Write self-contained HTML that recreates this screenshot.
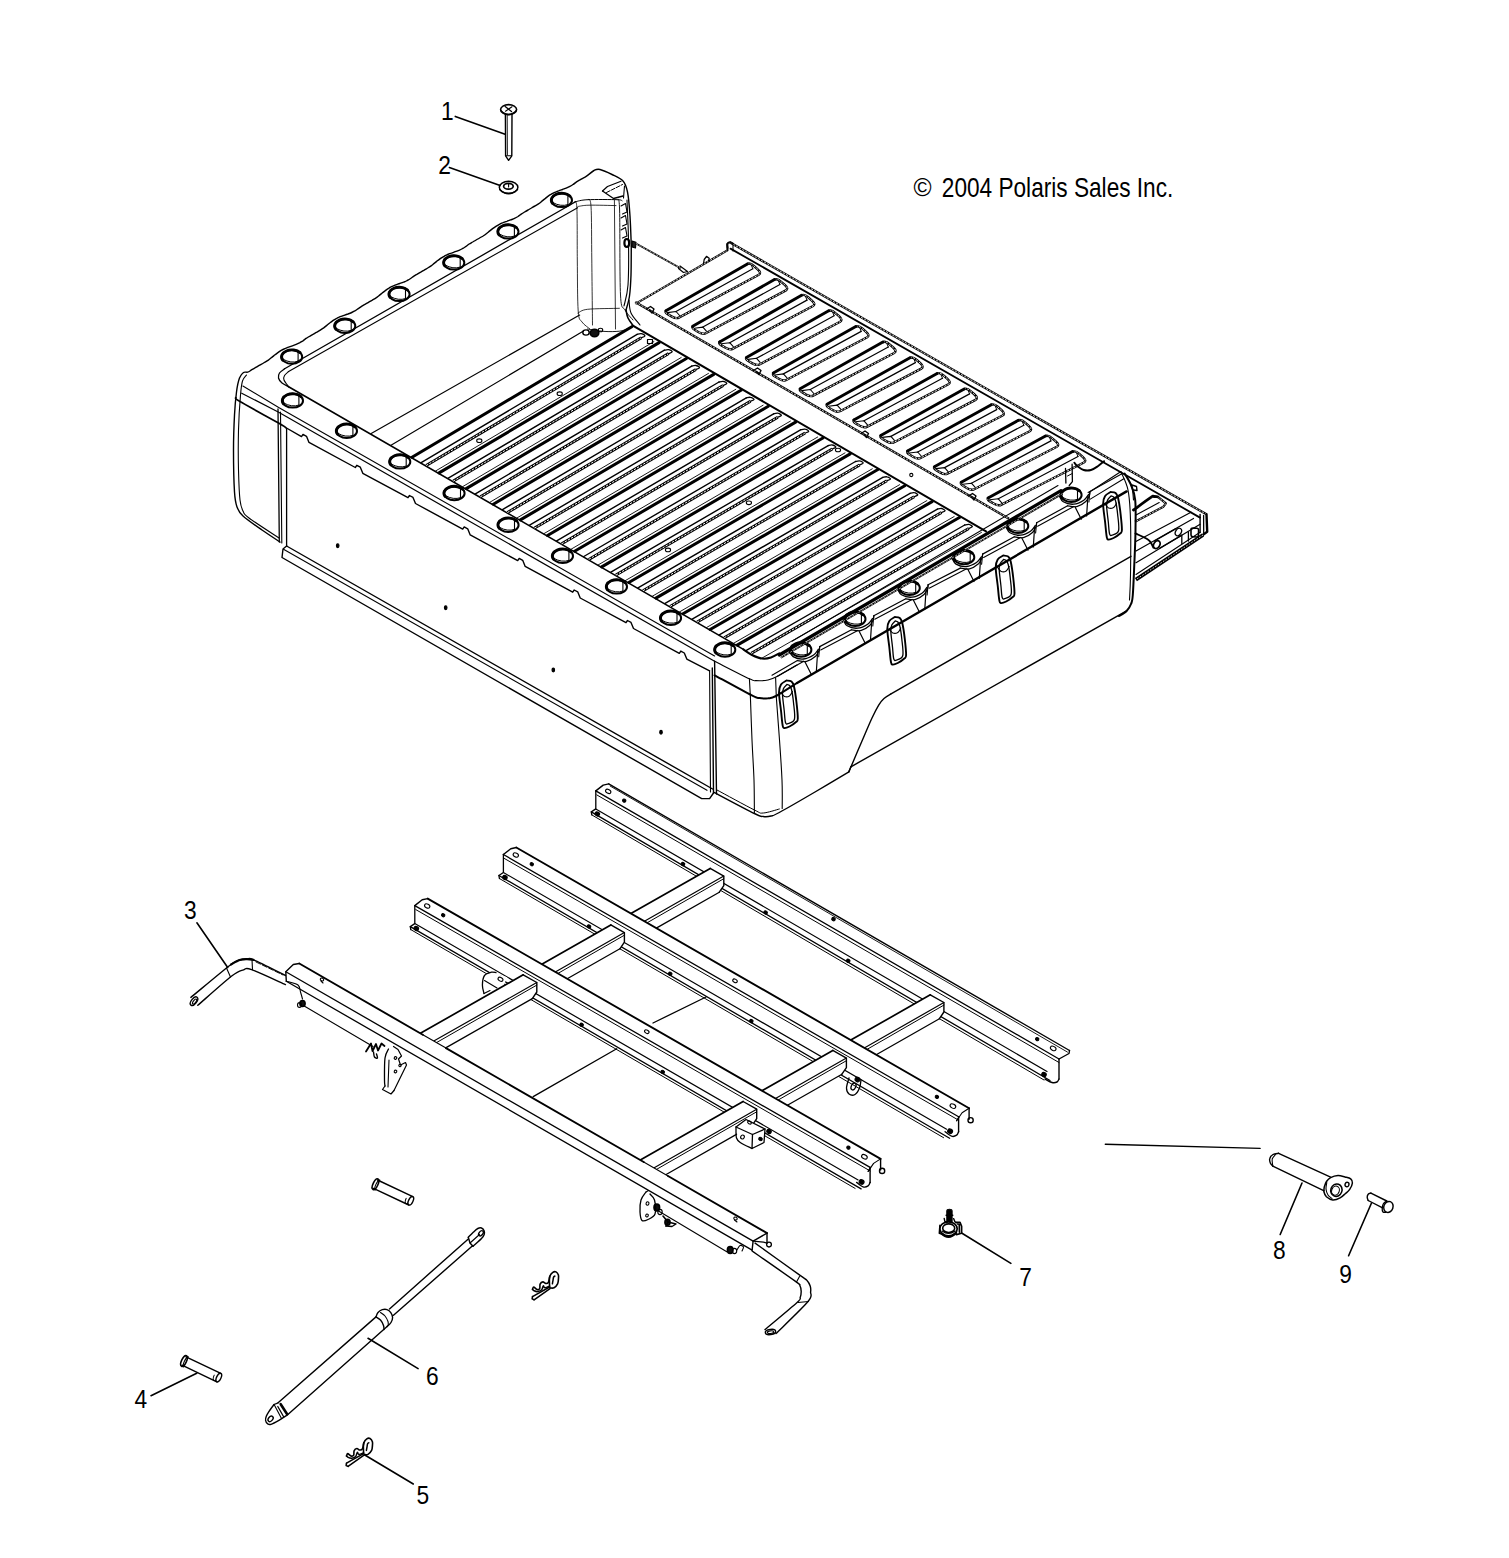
<!DOCTYPE html>
<html><head><meta charset="utf-8"><title>Cargo Box</title>
<style>
html,body{margin:0;padding:0;background:#fff;}
body{width:1509px;height:1558px;overflow:hidden;font-family:"Liberation Sans",sans-serif;}
svg{display:block;}
svg path,svg ellipse,svg line,svg circle,svg rect{stroke:#000;stroke-linecap:round;stroke-linejoin:round;}
svg text{font-family:"Liberation Sans",sans-serif;fill:#000;stroke:none;}
</style></head><body>
<svg width="1509" height="1558" viewBox="0 0 1509 1558">
<rect x="0" y="0" width="1509" height="1558" fill="#fff" style="stroke:none"/>
<g id="box">
<path d="M631.3 246 C631.1 241 630.6 225 630 216 C629.4 207 628.7 197.8 627.5 192 C626.3 186.2 625.6 183.9 623 181 C620.4 178.1 615.8 176.4 612 174.5 C608.2 172.6 603 170.2 600 169.5 C597 168.8 596.2 169.4 594 170.5 C591.8 171.6 588.7 174.7 586.9 175.9 C585.2 177.1 584.6 177.2 583.5 177.9 C582.3 178.6 581.2 179.2 580 179.9 C578.8 180.6 577.6 181.2 576.5 181.9 C575.4 182.7 574.4 183.6 573.3 184.3 C572.2 185.1 571.1 185.8 569.9 186.4 C568.7 187 567.5 187.6 566.2 188.1 C565 188.6 563.7 189 562.4 189.5 C561.2 189.9 559.8 190.3 558.6 190.8 C557.3 191.3 556.1 191.8 554.8 192.3 C553.6 192.9 552.4 193.5 551.3 194.2 C550.1 194.9 549 195.6 547.9 196.4 C546.9 197.2 545.8 198 544.8 198.9 C543.7 199.7 542.7 200.6 541.6 201.4 C540.6 202.3 539.6 203.2 538.5 203.9 C537.3 204.7 536.1 205.3 535 206 C533.8 206.6 532.7 207.3 531.5 208 C530.4 208.6 529.2 209.3 528.1 210 C526.9 210.6 525.7 211.3 524.6 212 C523.5 212.7 522.4 213.4 521.2 214.1 C520.1 214.9 519.1 215.8 518 216.5 C516.8 217.2 515.7 217.8 514.5 218.4 C513.3 219 512 219.4 510.7 219.9 C509.5 220.4 508.2 220.8 506.9 221.3 C505.6 221.7 504.3 222.2 503.1 222.7 C501.8 223.2 500.6 223.7 499.4 224.3 C498.2 224.9 497 225.6 495.9 226.3 C494.8 227 493.7 227.8 492.6 228.6 C491.6 229.4 490.5 230.3 489.5 231.1 C488.4 232 487.4 232.9 486.3 233.7 C485.3 234.5 484.2 235.3 483.1 236 C481.9 236.7 480.8 237.3 479.6 238 C478.4 238.7 477.3 239.3 476.1 240 C475 240.7 473.8 241.3 472.7 242 C471.5 242.7 470.3 243.3 469.2 244 C468.1 244.7 467.1 245.6 466 246.4 C464.9 247.1 463.8 247.9 462.6 248.5 C461.4 249.2 460.2 249.8 459 250.3 C457.8 250.8 456.5 251.3 455.2 251.7 C453.9 252.2 452.6 252.6 451.4 253.1 C450.1 253.5 448.8 254 447.6 254.5 C446.3 255.1 445.1 255.6 444 256.3 C442.8 256.9 441.7 257.6 440.6 258.4 C439.5 259.2 438.4 260 437.4 260.8 C436.3 261.7 435.3 262.6 434.2 263.4 C433.2 264.2 432.2 265.1 431.1 265.9 C430 266.7 428.8 267.4 427.7 268 C426.5 268.7 425.4 269.4 424.2 270.1 C423.1 270.7 421.9 271.4 420.7 272.1 C419.6 272.7 418.4 273.4 417.3 274.1 C416.1 274.7 415 275.4 413.9 276.1 C412.7 276.9 411.7 277.8 410.6 278.5 C409.5 279.3 408.4 279.9 407.2 280.5 C406 281.2 404.7 281.7 403.5 282.2 C402.2 282.7 400.9 283.1 399.7 283.5 C398.4 284 397.1 284.4 395.8 284.9 C394.6 285.4 393.3 285.9 392.1 286.4 C390.9 287 389.7 287.6 388.6 288.3 C387.4 289 386.3 289.8 385.3 290.6 C384.2 291.4 383.1 292.2 382.1 293.1 C381 293.9 380 294.8 378.9 295.7 C377.9 296.5 376.9 297.4 375.7 298.1 C374.6 298.8 373.4 299.4 372.3 300.1 C371.1 300.8 370 301.4 368.8 302.1 C367.7 302.8 366.5 303.4 365.4 304.1 C364.2 304.8 363 305.4 361.9 306.1 C360.8 306.8 359.7 307.6 358.6 308.4 C357.5 309.1 356.4 309.9 355.3 310.6 C354.1 311.3 352.9 311.9 351.7 312.5 C350.5 313.1 349.2 313.5 348 314 C346.7 314.5 345.4 314.9 344.1 315.3 C342.9 315.8 341.6 316.2 340.3 316.7 C339.1 317.3 337.8 317.8 336.7 318.4 C335.5 319 334.3 319.7 333.2 320.4 C332.1 321.2 331 322 330 322.8 C328.9 323.6 327.9 324.5 326.8 325.4 C325.8 326.2 324.7 327.1 323.7 327.9 C322.6 328.7 321.5 329.4 320.3 330.1 C319.2 330.9 318 331.5 316.9 332.2 C315.7 332.8 314.6 333.5 313.4 334.2 C312.3 334.8 311.1 335.5 310 336.2 C308.8 336.8 307.6 337.4 306.5 338.2 C305.4 338.9 304.4 339.8 303.3 340.6 C302.2 341.3 301 342 299.9 342.7 C298.7 343.3 297.5 343.9 296.2 344.4 C295 344.9 293.7 345.4 292.4 345.8 C291.2 346.3 289.9 346.7 288.6 347.1 C287.3 347.6 286.1 348.1 284.8 348.6 C283.6 349.2 282.4 349.8 281.2 350.4 C280.1 351.1 279 351.8 277.9 352.6 C276.8 353.4 275.7 354.2 274.7 355 C273.6 355.9 272.6 356.8 271.5 357.6 C270.5 358.5 269.5 359.4 268.4 360.1 C267.3 360.9 266.1 361.5 265 362.2 C263.8 362.9 262.6 363.5 261.5 364.2 C260.3 364.9 259.2 365.5 258 366.2 C256.9 366.9 255.7 367.5 254.6 368.2 C253.4 368.9 252.3 369.5 251.1 370.2 C250 370.9 248.9 371.8 247.6 372.2 C246.4 372.6 244.9 371.5 243.5 372.5 C242.1 373.5 240.7 374.8 239.5 378 C238.3 381.2 237.3 385.8 236.5 392 C235.7 398.2 235 405.3 234.5 415 C234 424.7 233.5 437.2 233.5 450 C233.5 462.8 233.9 482.5 234.5 492 C235.1 501.5 235.6 503 237 507 C238.4 511 238.8 512.2 243 516 C247.2 519.8 255.8 525.7 262 530 C268.2 534.3 277 540 280 542" stroke-width="1.4" fill="none"/>
<path d="M631.3 246 C631.2 250.8 631.3 266.7 631 275 C630.7 283.3 630.3 290.2 629.5 296 C628.7 301.8 626.6 307.7 626 310" stroke-width="1.4" fill="none"/>
<path d="M627 200 C627.2 206.7 628.3 225.8 628.5 240 C628.7 254.2 628.8 274 628 285 C627.2 296 624.7 302.5 624 306" stroke-width="1.1" fill="none"/>
<path d="M575.6 201.7 L284.6 368.8" stroke-width="1.3" fill="none"/>
<path d="M577.6 207.7 L288.6 371.5" stroke-width="1.1" fill="none"/>
<path d="M284.6 368.8 C283.8 369.5 280.5 371.5 279.5 373 C278.5 374.5 278.1 376.3 278.5 378 C278.9 379.7 280.3 381.6 282 383 C283.7 384.4 287.5 386.1 288.6 386.7" stroke-width="1.3" fill="none"/>
<path d="M288.6 371.5 C287.9 372.2 285.3 374.1 284.5 375.5 C283.7 376.9 283.3 378.1 284 380 C284.7 381.9 287.8 385.6 288.6 386.7" stroke-width="1.1" fill="none"/>
<path d="M246.5 375 C245.8 376 243.5 377.7 242.5 381 C241.5 384.3 241.2 386.8 240.5 395 C239.8 403.2 238.8 417.5 238.5 430 C238.2 442.5 238.2 458.3 238.5 470 C238.8 481.7 239.2 493.2 240 500 C240.8 506.8 241.5 508 243 511 C244.5 514 243 513.5 249 518 C255 522.5 274 534.7 279 538" stroke-width="1.1" fill="none"/>
<path d="M235.8 397.6 C236.5 398.3 233 397.5 240 401.6 C247 405.8 270.1 418.2 277.7 422.5 C285.3 426.8 284.3 426.7 285.6 427.5" stroke-width="1.7" fill="none"/>
<path d="M278 409 L279.3 542" stroke-width="1.3" fill="none"/>
<path d="M280.5 412 L281.8 543" stroke-width="1.1" fill="none"/>
<path d="M286.6 428.5 L286.6 546" stroke-width="1.3" fill="none"/>
<path d="M288.6 386.7 L743.4 649.4" stroke-width="1.6" fill="none"/>
<path d="M242.9 386 L278.7 407.5 L714.6 656" stroke-width="1.1" fill="none"/>
<path d="M241.7 393.2 L278.7 412.3 L714.6 661.3" stroke-width="1.2" fill="none"/>
<path d="M285.6 427.5 L301.5 436.6 L303 434.4 L306.5 436.3 L309 442.4 L355.3 467.5 L356.8 465.3 L360.3 467.2 L362.8 473.3 L408 497.7 L409.5 495.5 L413 497.4 L415.5 503.5 L462.7 529.1 L464.2 526.9 L467.7 528.8 L470.2 534.9 L517.7 560.6 L519.2 558.4 L522.7 560.3 L525.2 566.4 L572.7 592.2 L574.2 590 L577.7 591.8 L580.2 598 L626 622.7 L627.5 620.5 L631 622.4 L633.5 628.5 L679.3 653.3 L680.8 651.1 L684.3 653 L686.8 659.1 L709.6 670.8" stroke-width="1.4" fill="none"/>
<ellipse cx="561.7" cy="200.2" rx="10.3" ry="6.9" stroke-width="2" fill="none"/>
<path d="M552.5 203.3 A10.3 6.9 0 0 1 569.9 196" stroke-width="2.9" fill="none"/>
<path d="M567.9 195.6 L567.9 204.6" stroke-width="1.1" fill="none"/>
<path d="M553.2 202.7 Q560.7 207 567.9 204.6" stroke-width="1" fill="none"/>
<ellipse cx="508.2" cy="231.7" rx="10.3" ry="6.9" stroke-width="2" fill="none"/>
<path d="M499 234.8 A10.3 6.9 0 0 1 516.4 227.5" stroke-width="2.9" fill="none"/>
<path d="M514.4 227.1 L514.4 236.1" stroke-width="1.1" fill="none"/>
<path d="M499.7 234.2 Q507.2 238.5 514.4 236.1" stroke-width="1" fill="none"/>
<ellipse cx="454" cy="262.7" rx="10.3" ry="6.9" stroke-width="2" fill="none"/>
<path d="M444.8 265.8 A10.3 6.9 0 0 1 462.2 258.5" stroke-width="2.9" fill="none"/>
<path d="M460.2 258.1 L460.2 267.1" stroke-width="1.1" fill="none"/>
<path d="M445.5 265.2 Q453 269.5 460.2 267.1" stroke-width="1" fill="none"/>
<ellipse cx="399.3" cy="294.2" rx="10.3" ry="6.9" stroke-width="2" fill="none"/>
<path d="M390.1 297.3 A10.3 6.9 0 0 1 407.5 290" stroke-width="2.9" fill="none"/>
<path d="M405.5 289.6 L405.5 298.6" stroke-width="1.1" fill="none"/>
<path d="M390.8 296.7 Q398.3 301 405.5 298.6" stroke-width="1" fill="none"/>
<ellipse cx="345" cy="326" rx="10.3" ry="6.9" stroke-width="2" fill="none"/>
<path d="M335.8 329.1 A10.3 6.9 0 0 1 353.2 321.8" stroke-width="2.9" fill="none"/>
<path d="M351.2 321.4 L351.2 330.4" stroke-width="1.1" fill="none"/>
<path d="M336.5 328.5 Q344 332.8 351.2 330.4" stroke-width="1" fill="none"/>
<ellipse cx="291.9" cy="356.9" rx="10.3" ry="6.9" stroke-width="2" fill="none"/>
<path d="M282.7 360 A10.3 6.9 0 0 1 300.1 352.7" stroke-width="2.9" fill="none"/>
<path d="M298.1 352.3 L298.1 361.3" stroke-width="1.1" fill="none"/>
<path d="M283.4 359.4 Q290.9 363.7 298.1 361.3" stroke-width="1" fill="none"/>
<ellipse cx="292.7" cy="400.7" rx="10.3" ry="6.9" stroke-width="2" fill="none"/>
<path d="M283.5 403.8 A10.3 6.9 0 0 1 300.9 396.5" stroke-width="2.9" fill="none"/>
<path d="M298.9 396.1 L298.9 405.1" stroke-width="1.1" fill="none"/>
<path d="M284.2 403.2 Q291.7 407.5 298.9 405.1" stroke-width="1" fill="none"/>
<ellipse cx="346.7" cy="431" rx="10.3" ry="6.9" stroke-width="2" fill="none"/>
<path d="M337.5 434.1 A10.3 6.9 0 0 1 354.9 426.8" stroke-width="2.9" fill="none"/>
<path d="M352.9 426.4 L352.9 435.4" stroke-width="1.1" fill="none"/>
<path d="M338.2 433.5 Q345.7 437.8 352.9 435.4" stroke-width="1" fill="none"/>
<ellipse cx="400" cy="461.7" rx="10.3" ry="6.9" stroke-width="2" fill="none"/>
<path d="M390.8 464.8 A10.3 6.9 0 0 1 408.2 457.5" stroke-width="2.9" fill="none"/>
<path d="M406.2 457.1 L406.2 466.1" stroke-width="1.1" fill="none"/>
<path d="M391.5 464.2 Q399 468.5 406.2 466.1" stroke-width="1" fill="none"/>
<ellipse cx="454.3" cy="493.3" rx="10.3" ry="6.9" stroke-width="2" fill="none"/>
<path d="M445.1 496.4 A10.3 6.9 0 0 1 462.5 489.1" stroke-width="2.9" fill="none"/>
<path d="M460.5 488.7 L460.5 497.7" stroke-width="1.1" fill="none"/>
<path d="M445.8 495.8 Q453.3 500.1 460.5 497.7" stroke-width="1" fill="none"/>
<ellipse cx="508.3" cy="525" rx="10.3" ry="6.9" stroke-width="2" fill="none"/>
<path d="M499.1 528.1 A10.3 6.9 0 0 1 516.5 520.8" stroke-width="2.9" fill="none"/>
<path d="M514.5 520.4 L514.5 529.4" stroke-width="1.1" fill="none"/>
<path d="M499.8 527.5 Q507.3 531.8 514.5 529.4" stroke-width="1" fill="none"/>
<ellipse cx="562.7" cy="556" rx="10.3" ry="6.9" stroke-width="2" fill="none"/>
<path d="M553.5 559.1 A10.3 6.9 0 0 1 570.9 551.8" stroke-width="2.9" fill="none"/>
<path d="M568.9 551.4 L568.9 560.4" stroke-width="1.1" fill="none"/>
<path d="M554.2 558.5 Q561.7 562.8 568.9 560.4" stroke-width="1" fill="none"/>
<ellipse cx="616.7" cy="586.7" rx="10.3" ry="6.9" stroke-width="2" fill="none"/>
<path d="M607.5 589.8 A10.3 6.9 0 0 1 624.9 582.5" stroke-width="2.9" fill="none"/>
<path d="M622.9 582.1 L622.9 591.1" stroke-width="1.1" fill="none"/>
<path d="M608.2 589.2 Q615.7 593.5 622.9 591.1" stroke-width="1" fill="none"/>
<ellipse cx="670.8" cy="618" rx="10.3" ry="6.9" stroke-width="2" fill="none"/>
<path d="M661.6 621.1 A10.3 6.9 0 0 1 679 613.8" stroke-width="2.9" fill="none"/>
<path d="M677 613.4 L677 622.4" stroke-width="1.1" fill="none"/>
<path d="M662.3 620.5 Q669.8 624.8 677 622.4" stroke-width="1" fill="none"/>
<ellipse cx="725" cy="649.8" rx="10.3" ry="6.9" stroke-width="2" fill="none"/>
<path d="M715.8 652.9 A10.3 6.9 0 0 1 733.2 645.6" stroke-width="2.9" fill="none"/>
<path d="M731.2 645.2 L731.2 654.2" stroke-width="1.1" fill="none"/>
<path d="M716.5 652.3 Q724 656.6 731.2 654.2" stroke-width="1" fill="none"/>
<ellipse cx="801.1" cy="649.8" rx="10.3" ry="6.9" stroke-width="2" fill="none"/>
<path d="M791.9 652.9 A10.3 6.9 0 0 1 809.3 645.6" stroke-width="2.9" fill="none"/>
<path d="M807.3 645.2 L807.3 654.2" stroke-width="1.1" fill="none"/>
<path d="M792.6 652.3 Q800.1 656.6 807.3 654.2" stroke-width="1" fill="none"/>
<ellipse cx="855.2" cy="619" rx="10.3" ry="6.9" stroke-width="2" fill="none"/>
<path d="M846 622.1 A10.3 6.9 0 0 1 863.4 614.8" stroke-width="2.9" fill="none"/>
<path d="M861.4 614.4 L861.4 623.4" stroke-width="1.1" fill="none"/>
<path d="M846.7 621.5 Q854.2 625.8 861.4 623.4" stroke-width="1" fill="none"/>
<ellipse cx="909.5" cy="588" rx="10.3" ry="6.9" stroke-width="2" fill="none"/>
<path d="M900.3 591.1 A10.3 6.9 0 0 1 917.7 583.8" stroke-width="2.9" fill="none"/>
<path d="M915.7 583.4 L915.7 592.4" stroke-width="1.1" fill="none"/>
<path d="M901 590.5 Q908.5 594.8 915.7 592.4" stroke-width="1" fill="none"/>
<ellipse cx="964" cy="557.3" rx="10.3" ry="6.9" stroke-width="2" fill="none"/>
<path d="M954.8 560.4 A10.3 6.9 0 0 1 972.2 553.1" stroke-width="2.9" fill="none"/>
<path d="M970.2 552.7 L970.2 561.7" stroke-width="1.1" fill="none"/>
<path d="M955.5 559.8 Q963 564.1 970.2 561.7" stroke-width="1" fill="none"/>
<ellipse cx="1018" cy="526" rx="10.3" ry="6.9" stroke-width="2" fill="none"/>
<path d="M1008.8 529.1 A10.3 6.9 0 0 1 1026.2 521.8" stroke-width="2.9" fill="none"/>
<path d="M1024.2 521.4 L1024.2 530.4" stroke-width="1.1" fill="none"/>
<path d="M1009.5 528.5 Q1017 532.8 1024.2 530.4" stroke-width="1" fill="none"/>
<ellipse cx="1071.3" cy="495" rx="10.3" ry="6.9" stroke-width="2" fill="none"/>
<path d="M1062.1 498.1 A10.3 6.9 0 0 1 1079.5 490.8" stroke-width="2.9" fill="none"/>
<path d="M1077.5 490.4 L1077.5 499.4" stroke-width="1.1" fill="none"/>
<path d="M1062.8 497.5 Q1070.3 501.8 1077.5 499.4" stroke-width="1" fill="none"/>
<path d="M286.6 546 L712.6 789" stroke-width="1.4" fill="none"/>
<path d="M283.5 549.3 L707 790.3" stroke-width="1.1" fill="none"/>
<path d="M286.6 546 L283 549 L282 557.5 L701.7 798.6 L709.6 798.6 L713.5 793" stroke-width="1.4" fill="none"/>
<ellipse cx="337.7" cy="545.7" rx="1.3" ry="1.9" stroke-width="1.1" fill="#000"/>
<ellipse cx="445.7" cy="607.7" rx="1.3" ry="1.9" stroke-width="1.1" fill="#000"/>
<ellipse cx="553.3" cy="670" rx="1.3" ry="1.9" stroke-width="1.1" fill="#000"/>
<ellipse cx="661" cy="732.3" rx="1.3" ry="1.9" stroke-width="1.1" fill="#000"/>
<path d="M709.6 671 L710.5 792" stroke-width="1.1" fill="none"/>
<path d="M712.3 668 L713.5 793" stroke-width="1.4" fill="none"/>
<path d="M714.6 661.3 L716.5 794" stroke-width="1.4" fill="none"/>
<path d="M750.4 697 C750.7 704.2 751.4 726.2 752 740 C752.6 753.8 753.6 767.9 754 780 C754.4 792.1 754.3 807.1 754.4 812.5" stroke-width="1.1" fill="none"/>
<path d="M776.3 697 C776.8 704.2 778.5 726.2 779.5 740 C780.5 753.8 781.5 768.6 782 780 C782.5 791.4 782.2 803.8 782.2 808.5" stroke-width="1.1" fill="none"/>
<path d="M714.6 792.6 C721.2 796.1 746.3 809.5 754.4 813.5 C762.5 817.5 760.5 816.1 763.3 816.5 C766.1 816.9 768.3 816.7 771 816 C773.7 815.3 772 816.5 779.3 812.5 C786.6 808.5 803.4 798.8 815 792 C826.6 785.2 843.2 775.2 848.9 771.8" stroke-width="1.4" fill="none"/>
<path d="M717 790 C723.2 793.3 746.7 806.2 754.4 810 C762.1 813.8 759.1 813.2 763.3 813 C767.4 812.8 776.6 809.7 779.3 809" stroke-width="1" fill="none"/>
<path d="M714.6 661.3 C720.4 664.2 742.5 675.6 749.4 678.8 C756.3 682 752.9 680.4 756 680.6 C759.1 680.8 764.5 680.7 768 680 C771.5 679.3 772.2 679 777 676.5 C781.8 674 793.7 666.9 797 665" stroke-width="1.2" fill="none"/>
<path d="M714.6 675.3 C720.7 678.6 743.9 691.4 751.4 695.2 C758.9 699 756.6 697.6 759.4 698.1 C762.2 698.6 765.2 698.6 768 698.3 C770.8 697.9 771.2 698.5 776 696 C780.8 693.5 793.5 685.2 797 683" stroke-width="2" fill="none"/>
<path d="M797 683 L1126.6 491.4" stroke-width="2.4" fill="none"/>
<path d="M749.4 678.8 L750.4 697" stroke-width="1.1" fill="none"/>
<path d="M775.6 677.5 L776.3 697" stroke-width="1.1" fill="none"/>
<path d="M789.1 650.8 C789.8 651.8 790.7 655.2 793.1 656.6 C795.5 658 800.2 659.3 803.6 659 C807 658.7 811.1 656.6 813.6 655 C816.1 653.4 817.6 650.2 818.4 649.3" stroke-width="1.3" fill="none"/>
<path d="M797.4 660.6 C798.9 660.7 803.6 662.1 806.6 661.4 C809.6 660.7 813.5 658.1 815.6 656.3 C817.7 654.4 818.4 651.9 819.1 650.3 C819.8 648.7 819.6 647.2 819.7 646.6" stroke-width="1.2" fill="none"/>
<path d="M804.8 661.6 L811.1 674" stroke-width="1.2" fill="none"/>
<path d="M817.7 650.8 L816.4 670.8" stroke-width="1.2" fill="none"/>
<path d="M819.7 646.6 L818.7 656.8" stroke-width="1.1" fill="none"/>
<path d="M819.7 646.6 L851.5 629.8" stroke-width="1.2" fill="none"/>
<path d="M820.7 650 L857.8 630.4" stroke-width="1.1" fill="none"/>
<path d="M843.2 620 C843.9 621 844.8 624.4 847.2 625.8 C849.6 627.2 854.3 628.5 857.7 628.2 C861.1 627.9 865.2 625.8 867.7 624.2 C870.2 622.6 871.7 619.5 872.5 618.5" stroke-width="1.3" fill="none"/>
<path d="M851.5 629.8 C853 629.9 857.7 631.3 860.7 630.6 C863.7 629.9 867.6 627.4 869.7 625.5 C871.8 623.6 872.5 621.1 873.2 619.5 C873.9 617.9 873.7 616.4 873.8 615.8" stroke-width="1.2" fill="none"/>
<path d="M858.9 630.8 L865.2 643.2" stroke-width="1.2" fill="none"/>
<path d="M871.8 620 L870.5 640" stroke-width="1.2" fill="none"/>
<path d="M873.8 615.8 L872.8 626" stroke-width="1.1" fill="none"/>
<path d="M873.8 615.8 L905.8 598.8" stroke-width="1.2" fill="none"/>
<path d="M874.8 619.2 L912.1 599.4" stroke-width="1.1" fill="none"/>
<path d="M897.5 589 C898.2 590 899.1 593.4 901.5 594.8 C903.9 596.2 908.6 597.5 912 597.2 C915.4 596.9 919.5 594.8 922 593.2 C924.5 591.6 926 588.5 926.8 587.5" stroke-width="1.3" fill="none"/>
<path d="M905.8 598.8 C907.3 598.9 912 600.3 915 599.6 C918 598.9 921.9 596.4 924 594.5 C926.1 592.6 926.8 590.1 927.5 588.5 C928.2 586.9 928 585.4 928.1 584.8" stroke-width="1.2" fill="none"/>
<path d="M913.2 599.8 L919.5 612.2" stroke-width="1.2" fill="none"/>
<path d="M926.1 589 L924.8 609" stroke-width="1.2" fill="none"/>
<path d="M928.1 584.8 L927.1 595" stroke-width="1.1" fill="none"/>
<path d="M928.1 584.8 L960.3 568.1" stroke-width="1.2" fill="none"/>
<path d="M929.1 588.2 L966.6 568.7" stroke-width="1.1" fill="none"/>
<path d="M952 558.3 C952.7 559.3 953.6 562.7 956 564.1 C958.4 565.5 963.1 566.8 966.5 566.5 C969.9 566.2 974 564.1 976.5 562.5 C979 560.9 980.5 557.8 981.3 556.8" stroke-width="1.3" fill="none"/>
<path d="M960.3 568.1 C961.8 568.2 966.5 569.6 969.5 568.9 C972.5 568.2 976.4 565.6 978.5 563.8 C980.6 561.9 981.3 559.4 982 557.8 C982.7 556.2 982.5 554.7 982.6 554.1" stroke-width="1.2" fill="none"/>
<path d="M967.7 569.1 L974 581.5" stroke-width="1.2" fill="none"/>
<path d="M980.6 558.3 L979.3 578.3" stroke-width="1.2" fill="none"/>
<path d="M982.6 554.1 L981.6 564.3" stroke-width="1.1" fill="none"/>
<path d="M982.6 554.1 L1014.3 536.8" stroke-width="1.2" fill="none"/>
<path d="M983.6 557.5 L1020.6 537.4" stroke-width="1.1" fill="none"/>
<path d="M1006 527 C1006.7 528 1007.6 531.4 1010 532.8 C1012.4 534.2 1017.1 535.5 1020.5 535.2 C1023.9 534.9 1028 532.8 1030.5 531.2 C1033 529.6 1034.5 526.5 1035.3 525.5" stroke-width="1.3" fill="none"/>
<path d="M1014.3 536.8 C1015.8 536.9 1020.5 538.3 1023.5 537.6 C1026.5 536.9 1030.4 534.4 1032.5 532.5 C1034.6 530.6 1035.3 528.1 1036 526.5 C1036.7 524.9 1036.5 523.4 1036.6 522.8" stroke-width="1.2" fill="none"/>
<path d="M1021.7 537.8 L1028 550.2" stroke-width="1.2" fill="none"/>
<path d="M1034.6 527 L1033.3 547" stroke-width="1.2" fill="none"/>
<path d="M1036.6 522.8 L1035.6 533" stroke-width="1.1" fill="none"/>
<path d="M1036.6 522.8 L1067.6 505.8" stroke-width="1.2" fill="none"/>
<path d="M1037.6 526.2 L1073.9 506.4" stroke-width="1.1" fill="none"/>
<path d="M1059.3 496 C1060 497 1060.9 500.4 1063.3 501.8 C1065.7 503.2 1070.4 504.5 1073.8 504.2 C1077.2 503.9 1081.3 501.8 1083.8 500.2 C1086.3 498.6 1087.8 495.4 1088.6 494.5" stroke-width="1.3" fill="none"/>
<path d="M1067.6 505.8 C1069.1 505.9 1073.8 507.3 1076.8 506.6 C1079.8 505.9 1083.7 503.4 1085.8 501.5 C1087.9 499.6 1088.6 497.1 1089.3 495.5 C1090 493.9 1089.8 492.4 1089.9 491.8" stroke-width="1.2" fill="none"/>
<path d="M1075 506.8 L1081.3 519.2" stroke-width="1.2" fill="none"/>
<path d="M1087.9 496 L1086.6 516" stroke-width="1.2" fill="none"/>
<path d="M1089.9 491.8 L1088.9 502" stroke-width="1.1" fill="none"/>
<path d="M777 676.5 L803.7 661.2" stroke-width="1.1" fill="none"/>
<path d="M772 675.2 L797.4 660.6" stroke-width="1.1" fill="none"/>
<path d="M1089.9 491.8 L1121 471.5" stroke-width="1.1" fill="none"/>
<path d="M743.4 649.4 C744.8 650.3 748.9 653.5 752 655 C755.1 656.5 758.8 658.1 762 658.5 C765.2 658.9 768.1 658.4 771 657.5 C773.9 656.6 777.9 654.1 779.3 653.4" stroke-width="2" fill="none"/>
<path d="M779.3 655 L1061 490.6" stroke-width="3.2" fill="none"/>
<path d="M780.8 657.8 L1062.5 493.6" stroke-width="1.8" fill="none" style="stroke-linecap:butt"/>
<path d="M780.8 657.8 L1062.5 493.6" stroke-width="0.6" fill="none" stroke-dasharray="2.3 1.3" style="stroke:#fff;stroke-linecap:butt"/>
<path d="M792 641.2 L1058 485.5" stroke-width="1.1" fill="none"/>
<path d="M412 457.3 L631.8 326.7" stroke-width="3" fill="none"/>
<path d="M421.2 462.6 L637.1 334.3" stroke-width="1.4" fill="none"/>
<path d="M426.2 465.5 L641.3 337.7" stroke-width="2.9" fill="none" style="stroke-linecap:butt"/>
<path d="M426.2 465.5 L641.3 337.7" stroke-width="1" fill="none" stroke-dasharray="2.3 1.3" style="stroke:#fff;stroke-linecap:butt"/>
<path d="M637.1 334.3 C637.8 334.2 640 333.4 641.3 333.7 C642.6 334 644.9 335.2 644.9 335.9 C644.9 336.6 641.9 337.4 641.3 337.7" stroke-width="1.3" fill="none"/>
<path d="M435.6 471 L653.9 341.6" stroke-width="0.9" fill="none"/>
<path d="M439.1 472.9 L659.1 342.6" stroke-width="3" fill="none"/>
<path d="M448.3 478.2 L664.4 350.2" stroke-width="1.4" fill="none"/>
<path d="M453.3 481.1 L668.6 353.6" stroke-width="2.9" fill="none" style="stroke-linecap:butt"/>
<path d="M453.3 481.1 L668.6 353.6" stroke-width="1" fill="none" stroke-dasharray="2.3 1.3" style="stroke:#fff;stroke-linecap:butt"/>
<path d="M664.4 350.2 C665.1 350.1 667.3 349.3 668.6 349.6 C669.9 349.9 672.2 351.1 672.2 351.8 C672.2 352.5 669.2 353.3 668.6 353.6" stroke-width="1.3" fill="none"/>
<path d="M462.7 486.6 L681.2 357.5" stroke-width="0.9" fill="none"/>
<path d="M466.2 488.6 L686.4 358.5" stroke-width="3" fill="none"/>
<path d="M475.4 493.9 L691.7 366.1" stroke-width="1.4" fill="none"/>
<path d="M480.4 496.8 L695.9 369.5" stroke-width="2.9" fill="none" style="stroke-linecap:butt"/>
<path d="M480.4 496.8 L695.9 369.5" stroke-width="1" fill="none" stroke-dasharray="2.3 1.3" style="stroke:#fff;stroke-linecap:butt"/>
<path d="M691.7 366.1 C692.4 366 694.6 365.2 695.9 365.5 C697.2 365.8 699.5 367 699.5 367.7 C699.5 368.4 696.5 369.2 695.9 369.5" stroke-width="1.3" fill="none"/>
<path d="M489.8 502.3 L708.5 373.4" stroke-width="0.9" fill="none"/>
<path d="M493.3 504.2 L713.7 374.4" stroke-width="3" fill="none"/>
<path d="M502.5 509.6 L719 382" stroke-width="1.4" fill="none"/>
<path d="M507.5 512.5 L723.2 385.4" stroke-width="2.9" fill="none" style="stroke-linecap:butt"/>
<path d="M507.5 512.5 L723.2 385.4" stroke-width="1" fill="none" stroke-dasharray="2.3 1.3" style="stroke:#fff;stroke-linecap:butt"/>
<path d="M719 382 C719.7 381.9 721.9 381.1 723.2 381.4 C724.5 381.7 726.8 382.9 726.8 383.6 C726.8 384.3 723.8 385.1 723.2 385.4" stroke-width="1.3" fill="none"/>
<path d="M516.9 518 L735.8 389.3" stroke-width="0.9" fill="none"/>
<path d="M520.4 519.9 L741 390.3" stroke-width="3" fill="none"/>
<path d="M529.6 525.2 L746.3 397.9" stroke-width="1.4" fill="none"/>
<path d="M534.6 528.1 L750.5 401.3" stroke-width="2.9" fill="none" style="stroke-linecap:butt"/>
<path d="M534.6 528.1 L750.5 401.3" stroke-width="1" fill="none" stroke-dasharray="2.3 1.3" style="stroke:#fff;stroke-linecap:butt"/>
<path d="M746.3 397.9 C747 397.8 749.2 397 750.5 397.3 C751.8 397.5 754.1 398.8 754.1 399.5 C754 400.2 751.1 401 750.5 401.3" stroke-width="1.3" fill="none"/>
<path d="M544 533.6 L763.1 405.2" stroke-width="0.9" fill="none"/>
<path d="M547.5 535.5 L768.3 406.2" stroke-width="3" fill="none"/>
<path d="M556.7 540.8 L773.6 413.8" stroke-width="1.4" fill="none"/>
<path d="M561.7 543.8 L777.8 417.2" stroke-width="2.9" fill="none" style="stroke-linecap:butt"/>
<path d="M561.7 543.8 L777.8 417.2" stroke-width="1" fill="none" stroke-dasharray="2.3 1.3" style="stroke:#fff;stroke-linecap:butt"/>
<path d="M773.6 413.8 C774.3 413.7 776.5 412.9 777.8 413.2 C779.1 413.4 781.4 414.7 781.4 415.4 C781.3 416 778.4 416.9 777.8 417.2" stroke-width="1.3" fill="none"/>
<path d="M571.1 549.2 L790.4 421.1" stroke-width="0.9" fill="none"/>
<path d="M574.6 551.2 L795.6 422.1" stroke-width="3" fill="none"/>
<path d="M583.8 556.5 L800.9 429.7" stroke-width="1.4" fill="none"/>
<path d="M588.8 559.4 L805.1 433.1" stroke-width="2.9" fill="none" style="stroke-linecap:butt"/>
<path d="M588.8 559.4 L805.1 433.1" stroke-width="1" fill="none" stroke-dasharray="2.3 1.3" style="stroke:#fff;stroke-linecap:butt"/>
<path d="M800.9 429.7 C801.6 429.6 803.8 428.8 805.1 429.1 C806.4 429.3 808.7 430.6 808.7 431.3 C808.6 431.9 805.7 432.8 805.1 433.1" stroke-width="1.3" fill="none"/>
<path d="M598.2 564.9 L817.7 437" stroke-width="0.9" fill="none"/>
<path d="M601.7 566.9 L822.9 438" stroke-width="3" fill="none"/>
<path d="M610.9 572.1 L828.2 445.6" stroke-width="1.4" fill="none"/>
<path d="M615.9 575.1 L832.3 449" stroke-width="2.9" fill="none" style="stroke-linecap:butt"/>
<path d="M615.9 575.1 L832.3 449" stroke-width="1" fill="none" stroke-dasharray="2.3 1.3" style="stroke:#fff;stroke-linecap:butt"/>
<path d="M828.2 445.6 C828.9 445.5 831.1 444.7 832.4 445 C833.7 445.2 836 446.5 835.9 447.2 C835.9 447.8 832.9 448.7 832.3 449" stroke-width="1.3" fill="none"/>
<path d="M625.3 580.6 L845 452.9" stroke-width="0.9" fill="none"/>
<path d="M628.8 582.5 L850.2 453.9" stroke-width="3" fill="none"/>
<path d="M638 587.8 L855.5 461.5" stroke-width="1.4" fill="none"/>
<path d="M643 590.7 L859.6 464.9" stroke-width="2.9" fill="none" style="stroke-linecap:butt"/>
<path d="M643 590.7 L859.6 464.9" stroke-width="1" fill="none" stroke-dasharray="2.3 1.3" style="stroke:#fff;stroke-linecap:butt"/>
<path d="M855.5 461.5 C856.2 461.4 858.4 460.6 859.7 460.9 C861 461.1 863.3 462.4 863.2 463.1 C863.2 463.7 860.2 464.6 859.6 464.9" stroke-width="1.3" fill="none"/>
<path d="M652.4 596.2 L872.3 468.8" stroke-width="0.9" fill="none"/>
<path d="M655.9 598.1 L877.5 469.8" stroke-width="3" fill="none"/>
<path d="M665.1 603.4 L882.8 477.4" stroke-width="1.4" fill="none"/>
<path d="M670.1 606.4 L886.9 480.8" stroke-width="2.9" fill="none" style="stroke-linecap:butt"/>
<path d="M670.1 606.4 L886.9 480.8" stroke-width="1" fill="none" stroke-dasharray="2.3 1.3" style="stroke:#fff;stroke-linecap:butt"/>
<path d="M882.8 477.4 C883.5 477.3 885.7 476.5 887 476.8 C888.3 477 890.6 478.3 890.5 479 C890.5 479.6 887.5 480.5 886.9 480.8" stroke-width="1.3" fill="none"/>
<path d="M679.5 611.9 L899.6 484.7" stroke-width="0.9" fill="none"/>
<path d="M683 613.8 L904.8 485.7" stroke-width="3" fill="none"/>
<path d="M692.2 619.1 L910.1 493.3" stroke-width="1.4" fill="none"/>
<path d="M697.2 622 L914.2 496.7" stroke-width="2.9" fill="none" style="stroke-linecap:butt"/>
<path d="M697.2 622 L914.2 496.7" stroke-width="1" fill="none" stroke-dasharray="2.3 1.3" style="stroke:#fff;stroke-linecap:butt"/>
<path d="M910.1 493.3 C910.8 493.2 913 492.4 914.3 492.7 C915.6 492.9 917.8 494.2 917.8 494.9 C917.8 495.5 914.8 496.4 914.2 496.7" stroke-width="1.3" fill="none"/>
<path d="M706.6 627.5 L926.9 500.6" stroke-width="0.9" fill="none"/>
<path d="M710.1 629.5 L932.1 501.6" stroke-width="3" fill="none"/>
<path d="M719.3 634.8 L937.4 509.1" stroke-width="1.4" fill="none"/>
<path d="M724.3 637.7 L941.5 512.5" stroke-width="2.9" fill="none" style="stroke-linecap:butt"/>
<path d="M724.3 637.7 L941.5 512.5" stroke-width="1" fill="none" stroke-dasharray="2.3 1.3" style="stroke:#fff;stroke-linecap:butt"/>
<path d="M937.4 509.1 C938.1 509 940.3 508.3 941.6 508.5 C942.9 508.8 945.1 510.1 945.1 510.7 C945.1 511.4 942.1 512.2 941.5 512.5" stroke-width="1.3" fill="none"/>
<path d="M733.7 643.2 L954.2 516.5" stroke-width="0.9" fill="none"/>
<path d="M737.2 645.1 L959.4 517.5" stroke-width="3" fill="none"/>
<path d="M746.4 650.4 L964.7 525" stroke-width="1.4" fill="none"/>
<path d="M751.4 653.3 L968.8 528.4" stroke-width="2.9" fill="none" style="stroke-linecap:butt"/>
<path d="M751.4 653.3 L968.8 528.4" stroke-width="1" fill="none" stroke-dasharray="2.3 1.3" style="stroke:#fff;stroke-linecap:butt"/>
<path d="M964.7 525 C965.4 524.9 967.6 524.2 968.9 524.4 C970.2 524.7 972.4 526 972.4 526.6 C972.4 527.3 969.4 528.1 968.8 528.4" stroke-width="1.3" fill="none"/>
<path d="M760.8 658.8 L981.5 532.4" stroke-width="0.9" fill="none"/>
<path d="M371.2 433.6 L579.6 315.1" stroke-width="1.2" fill="none"/>
<path d="M391 445.2 L583.5 331" stroke-width="1.2" fill="none"/>
<ellipse cx="668" cy="549.9" rx="2.6" ry="1.8" stroke-width="1.1" fill="none"/>
<ellipse cx="748.9" cy="502.8" rx="2.6" ry="1.8" stroke-width="1.1" fill="none"/>
<ellipse cx="559.7" cy="393.7" rx="2.6" ry="1.8" stroke-width="1.1" fill="none"/>
<ellipse cx="479.3" cy="440.7" rx="2.6" ry="1.8" stroke-width="1.1" fill="none"/>
<ellipse cx="838" cy="450" rx="2.6" ry="1.8" stroke-width="1.1" fill="none"/>
<rect x="647.5" y="339.5" width="5" height="4" stroke-width="1.2" fill="none"/>
<ellipse cx="911.3" cy="475" rx="1.6" ry="1.6" stroke-width="1.1" fill="none"/>
<path d="M573.6 202.7 C574.1 203.4 576.2 197.4 576.8 207 C577.4 216.6 577.1 242.7 577.3 260 C577.5 277.3 577.4 300.7 578.2 311 C579 321.3 580 319 582 322 C584 325 588.7 327.8 590 329" stroke-width="0.8" fill="none"/>
<path d="M575.6 201.7 C577.6 201.4 580.5 200 587.5 199.7 C594.5 199.4 611.6 199.5 617.4 199.7 C623.1 199.9 621.2 200.8 622 201" stroke-width="1" fill="none"/>
<path d="M578 206.5 C579.8 206.3 582.7 205.3 589 205.2 C595.3 205 611.5 205.5 616 205.6" stroke-width="0.8" fill="none"/>
<path d="M587.5 199.7 C588.1 200.8 590.3 195.9 591 206 C591.7 216.1 591.5 240.2 591.8 260 C592 279.8 592.4 314.2 592.5 325" stroke-width="0.8" fill="none"/>
<path d="M614.4 199.7 L615.5 329" stroke-width="0.8" fill="none"/>
<path d="M617.4 199.7 C617.8 201.4 619.1 194.1 619.6 210 C620.1 225.9 619.6 278.3 620.5 295 C621.4 311.7 622.9 305.8 625 310 C627.1 314.2 631.7 318.3 633 320" stroke-width="0.9" fill="none"/>
<path d="M578 313.1 C579.6 312.5 580.6 310.1 587.5 309.3 C594.4 308.5 614.1 308.5 619.4 308.3" stroke-width="0.8" fill="none"/>
<path d="M587.5 329 C590.2 329.4 598.7 331 604 331.4 C609.3 331.8 615.5 331.6 619.4 331.2 C623.3 330.8 626 329.4 627.3 329" stroke-width="0.9" fill="none"/>
<ellipse cx="594.5" cy="333" rx="4.3" ry="3.8" stroke-width="1.6" fill="#111"/>
<ellipse cx="586" cy="332.5" rx="3.2" ry="2.6" stroke-width="1.4" fill="none"/>
<ellipse cx="600.5" cy="330" rx="2.2" ry="1.8" stroke-width="1.1" fill="none"/>
<path d="M602.5 191 L607.5 186.5 L621 181.3" stroke-width="1.2" fill="none"/>
<path d="M602.5 191 L613.5 198.5 L623 196" stroke-width="1.3" fill="none"/>
<path d="M606.5 192.5 L622.5 184.5" stroke-width="1" fill="none" stroke-dasharray="4 1.5"/>
<path d="M624.5 186 L623.5 198" stroke-width="1.1" fill="none"/>
<path d="M621 206 L625.5 203.5 L627 212 L622.5 214" stroke-width="1.1" fill="none"/>
<path d="M621 218 L625.5 215.5 L627 224 L622.5 226" stroke-width="1.1" fill="none"/>
<path d="M621 230 L625.5 227.5 L627 236 L622.5 238" stroke-width="1.1" fill="none"/>
<ellipse cx="626.8" cy="243" rx="2.4" ry="4" stroke-width="2.2" fill="none"/>
<path d="M632 241 L636 242.2 L635.5 248 L632 247 Z" stroke-width="1.1" fill="#222"/>
<path d="M636 243.5 L681 268.5" stroke-width="1.8" fill="none" style="stroke-linecap:butt"/>
<path d="M636 243.5 L681 268.5" stroke-width="0.6" fill="none" stroke-dasharray="2.6 1.2" style="stroke:#fff;stroke-linecap:butt"/>
<path d="M680 266 L687.5 271.5 L683.5 272.5 L678.5 268.5" stroke-width="1.2" fill="none"/>
<path d="M633.3 325.8 L986 531.4" stroke-width="2" fill="none"/>
<path d="M635.2 301.9 L1009 518.7" stroke-width="2.3" fill="none" style="stroke-linecap:butt"/>
<path d="M635.2 301.9 L1009 518.7" stroke-width="0.8" fill="none" stroke-dasharray="2.3 1.3" style="stroke:#fff;stroke-linecap:butt"/>
<path d="M626 310 C626.3 311.3 626.8 315.4 628 318 C629.2 320.6 632.4 324.5 633.3 325.8" stroke-width="1.6" fill="none"/>
<path d="M629 300 C629.3 302.2 629.2 308.8 631 313 C632.8 317.2 638.5 323 640 325" stroke-width="1.1" fill="none"/>
<path d="M727.5 248 C727.5 247.3 726.9 244.9 727.3 244 C727.7 243.1 728.8 242.4 729.7 242.3 C730.7 242.2 732.5 243.4 733 243.6" stroke-width="1.9" fill="none"/>
<path d="M729.7 242.3 L1206.5 514.3" stroke-width="2.3" fill="none" style="stroke-linecap:butt"/>
<path d="M729.7 242.3 L1206.5 514.3" stroke-width="0.8" fill="none" stroke-dasharray="2.3 1.3" style="stroke:#fff;stroke-linecap:butt"/>
<path d="M730.5 248.6 L1200 517.6" stroke-width="1.8" fill="none"/>
<path d="M635.4 303.8 L727.3 250.4" stroke-width="2.1" fill="none" style="stroke-linecap:butt"/>
<path d="M635.4 303.8 L727.3 250.4" stroke-width="0.8" fill="none" stroke-dasharray="2.3 1.3" style="stroke:#fff;stroke-linecap:butt"/>
<path d="M727.3 250.4 L727.3 244" stroke-width="1.6" fill="none"/>
<path d="M727.5 243.5 L727.8 250.5" stroke-width="1.3" fill="none"/>
<path d="M729.7 242.3 L733 244 L733 251" stroke-width="1.1" fill="none"/>
<path d="M703.5 263.5 L704.2 259.5 L706.5 256.4 L709.2 258.2 L708.6 261" stroke-width="1.3" fill="none"/>
<path d="M1206.5 514.3 L1207.2 531.8 L1201 536.2" stroke-width="2.4" fill="none"/>
<path d="M1200.1 514.5 L1200.1 532.5" stroke-width="1.4" fill="none"/>
<path d="M1203.6 515.5 L1203.7 533.5" stroke-width="1.3" fill="none"/>
<path d="M1203 535 L1135.9 579.6" stroke-width="3.8" fill="none" style="stroke-linecap:butt"/>
<path d="M1203 535 L1135.9 579.6" stroke-width="0.8" fill="none" stroke-dasharray="1.6 1.5" style="stroke:#fff;stroke-linecap:butt"/>
<path d="M1200.1 532.2 L1136 574.5" stroke-width="1.1" fill="none"/>
<path d="M747 264.1 Q750 262.4 754.1 266.1 L757.7 269.3 Q761.8 273 758.8 274.7 L679.3 317.4 Q676.3 319.1 671.9 316.6 L668.1 314.4 Q663.7 311.9 666.7 310.2" stroke-width="2.4" fill="none" style="stroke-linecap:butt"/>
<path d="M747 264.1 Q750 262.4 754.1 266.1 L757.7 269.3 Q761.8 273 758.8 274.7 L679.3 317.4 Q676.3 319.1 671.9 316.6 L668.1 314.4 Q663.7 311.9 666.7 310.2" stroke-width="0.9" fill="none" stroke-dasharray="2.3 1.3" style="stroke:#fff;stroke-linecap:butt"/>
<path d="M665.9 310.7 L747.4 263.9" stroke-width="2.9" fill="none"/>
<path d="M676 311.5 L752.8 268.8" stroke-width="1.2" fill="none"/>
<path d="M667.5 312.6 L676 311.5 L679.6 315.5" stroke-width="1.1" fill="none"/>
<path d="M751.3 265.1 L752.8 268.8" stroke-width="1" fill="none"/>
<path d="M774.1 279.8 Q777.1 278 781.2 281.8 L784.8 284.9 Q788.9 288.6 785.9 290.4 L706.2 333 Q703.2 334.7 698.7 332.2 L695 330 Q690.6 327.5 693.6 325.8" stroke-width="2.4" fill="none" style="stroke-linecap:butt"/>
<path d="M774.1 279.8 Q777.1 278 781.2 281.8 L784.8 284.9 Q788.9 288.6 785.9 290.4 L706.2 333 Q703.2 334.7 698.7 332.2 L695 330 Q690.6 327.5 693.6 325.8" stroke-width="0.9" fill="none" stroke-dasharray="2.3 1.3" style="stroke:#fff;stroke-linecap:butt"/>
<path d="M692.7 326.3 L774.5 279.5" stroke-width="2.9" fill="none"/>
<path d="M702.9 327.1 L779.9 284.4" stroke-width="1.2" fill="none"/>
<path d="M694.4 328.2 L702.9 327.1 L706.4 331.1" stroke-width="1.1" fill="none"/>
<path d="M778.4 280.8 L779.9 284.4" stroke-width="1" fill="none"/>
<path d="M801.2 295.4 Q804.2 293.7 808.3 297.4 L811.9 300.6 Q816 304.3 813 306 L733 348.6 Q730 350.3 725.6 347.8 L721.8 345.6 Q717.4 343.1 720.4 341.4" stroke-width="2.4" fill="none" style="stroke-linecap:butt"/>
<path d="M801.2 295.4 Q804.2 293.7 808.3 297.4 L811.9 300.6 Q816 304.3 813 306 L733 348.6 Q730 350.3 725.6 347.8 L721.8 345.6 Q717.4 343.1 720.4 341.4" stroke-width="0.9" fill="none" stroke-dasharray="2.3 1.3" style="stroke:#fff;stroke-linecap:butt"/>
<path d="M719.6 341.9 L801.6 295.2" stroke-width="2.9" fill="none"/>
<path d="M729.7 342.7 L807 300.1" stroke-width="1.2" fill="none"/>
<path d="M721.2 343.8 L729.7 342.7 L733.3 346.7" stroke-width="1.1" fill="none"/>
<path d="M805.5 296.4 L807 300.1" stroke-width="1" fill="none"/>
<path d="M828.3 311.1 Q831.3 309.3 835.4 313.1 L839 316.2 Q843.1 319.9 840.1 321.7 L759.9 364.2 Q756.9 365.9 752.4 363.4 L748.7 361.2 Q744.2 358.7 747.3 357" stroke-width="2.4" fill="none" style="stroke-linecap:butt"/>
<path d="M828.3 311.1 Q831.3 309.3 835.4 313.1 L839 316.2 Q843.1 319.9 840.1 321.7 L759.9 364.2 Q756.9 365.9 752.4 363.4 L748.7 361.2 Q744.2 358.7 747.3 357" stroke-width="0.9" fill="none" stroke-dasharray="2.3 1.3" style="stroke:#fff;stroke-linecap:butt"/>
<path d="M746.4 357.5 L828.7 310.8" stroke-width="2.9" fill="none"/>
<path d="M756.6 358.3 L834.1 315.7" stroke-width="1.2" fill="none"/>
<path d="M748.1 359.4 L756.6 358.3 L760.1 362.3" stroke-width="1.1" fill="none"/>
<path d="M832.6 312.1 L834.1 315.7" stroke-width="1" fill="none"/>
<path d="M855.4 326.7 Q858.4 325 862.5 328.7 L866.1 331.9 Q870.2 335.6 867.2 337.3 L786.7 379.8 Q783.7 381.5 779.3 379 L775.5 376.8 Q771.1 374.3 774.1 372.6" stroke-width="2.4" fill="none" style="stroke-linecap:butt"/>
<path d="M855.4 326.7 Q858.4 325 862.5 328.7 L866.1 331.9 Q870.2 335.6 867.2 337.3 L786.7 379.8 Q783.7 381.5 779.3 379 L775.5 376.8 Q771.1 374.3 774.1 372.6" stroke-width="0.9" fill="none" stroke-dasharray="2.3 1.3" style="stroke:#fff;stroke-linecap:butt"/>
<path d="M773.3 373.1 L855.8 326.5" stroke-width="2.9" fill="none"/>
<path d="M783.4 373.9 L861.2 331.4" stroke-width="1.2" fill="none"/>
<path d="M774.9 375 L783.4 373.9 L787 377.9" stroke-width="1.1" fill="none"/>
<path d="M859.7 327.7 L861.2 331.4" stroke-width="1" fill="none"/>
<path d="M882.4 342.4 Q885.5 340.6 889.6 344.4 L893.2 347.5 Q897.3 351.2 894.2 353 L813.6 395.4 Q810.6 397.1 806.1 394.6 L802.4 392.4 Q798 389.9 801 388.2" stroke-width="2.4" fill="none" style="stroke-linecap:butt"/>
<path d="M882.4 342.4 Q885.5 340.6 889.6 344.4 L893.2 347.5 Q897.3 351.2 894.2 353 L813.6 395.4 Q810.6 397.1 806.1 394.6 L802.4 392.4 Q798 389.9 801 388.2" stroke-width="0.9" fill="none" stroke-dasharray="2.3 1.3" style="stroke:#fff;stroke-linecap:butt"/>
<path d="M800.1 388.7 L882.9 342.1" stroke-width="2.9" fill="none"/>
<path d="M810.3 389.5 L888.3 347" stroke-width="1.2" fill="none"/>
<path d="M801.8 390.6 L810.3 389.5 L813.8 393.5" stroke-width="1.1" fill="none"/>
<path d="M886.8 343.4 L888.3 347" stroke-width="1" fill="none"/>
<path d="M909.5 358 Q912.6 356.3 916.7 360 L920.3 363.2 Q924.4 366.9 921.3 368.6 L840.5 411 Q837.4 412.7 833 410.2 L829.2 408 Q824.8 405.5 827.9 403.8" stroke-width="2.4" fill="none" style="stroke-linecap:butt"/>
<path d="M909.5 358 Q912.6 356.3 916.7 360 L920.3 363.2 Q924.4 366.9 921.3 368.6 L840.5 411 Q837.4 412.7 833 410.2 L829.2 408 Q824.8 405.5 827.9 403.8" stroke-width="0.9" fill="none" stroke-dasharray="2.3 1.3" style="stroke:#fff;stroke-linecap:butt"/>
<path d="M827 404.3 L910 357.8" stroke-width="2.9" fill="none"/>
<path d="M837.1 405.1 L915.4 362.6" stroke-width="1.2" fill="none"/>
<path d="M828.6 406.2 L837.1 405.1 L840.7 409.1" stroke-width="1.1" fill="none"/>
<path d="M913.9 359 L915.4 362.6" stroke-width="1" fill="none"/>
<path d="M936.6 373.7 Q939.7 371.9 943.8 375.7 L947.4 378.8 Q951.5 382.6 948.4 384.3 L867.3 426.6 Q864.3 428.3 859.8 425.8 L856.1 423.6 Q851.7 421.1 854.7 419.4" stroke-width="2.4" fill="none" style="stroke-linecap:butt"/>
<path d="M936.6 373.7 Q939.7 371.9 943.8 375.7 L947.4 378.8 Q951.5 382.6 948.4 384.3 L867.3 426.6 Q864.3 428.3 859.8 425.8 L856.1 423.6 Q851.7 421.1 854.7 419.4" stroke-width="0.9" fill="none" stroke-dasharray="2.3 1.3" style="stroke:#fff;stroke-linecap:butt"/>
<path d="M853.8 419.9 L937.1 373.4" stroke-width="2.9" fill="none"/>
<path d="M864 420.8 L942.5 378.3" stroke-width="1.2" fill="none"/>
<path d="M855.5 421.8 L864 420.8 L867.5 424.8" stroke-width="1.1" fill="none"/>
<path d="M941 374.7 L942.5 378.3" stroke-width="1" fill="none"/>
<path d="M963.7 389.3 Q966.8 387.6 970.9 391.3 L974.5 394.5 Q978.6 398.2 975.5 399.9 L894.2 442.2 Q891.1 443.9 886.7 441.4 L882.9 439.2 Q878.5 436.7 881.6 435" stroke-width="2.4" fill="none" style="stroke-linecap:butt"/>
<path d="M963.7 389.3 Q966.8 387.6 970.9 391.3 L974.5 394.5 Q978.6 398.2 975.5 399.9 L894.2 442.2 Q891.1 443.9 886.7 441.4 L882.9 439.2 Q878.5 436.7 881.6 435" stroke-width="0.9" fill="none" stroke-dasharray="2.3 1.3" style="stroke:#fff;stroke-linecap:butt"/>
<path d="M880.7 435.5 L964.2 389.1" stroke-width="2.9" fill="none"/>
<path d="M890.9 436.4 L969.6 393.9" stroke-width="1.2" fill="none"/>
<path d="M882.3 437.4 L890.9 436.4 L894.4 440.4" stroke-width="1.1" fill="none"/>
<path d="M968.1 390.3 L969.6 393.9" stroke-width="1" fill="none"/>
<path d="M990.8 404.9 Q993.9 403.2 998 407 L1001.6 410.1 Q1005.7 413.9 1002.6 415.5 L921 457.8 Q918 459.5 913.5 457 L909.8 454.8 Q905.4 452.3 908.4 450.6" stroke-width="2.4" fill="none" style="stroke-linecap:butt"/>
<path d="M990.8 404.9 Q993.9 403.2 998 407 L1001.6 410.1 Q1005.7 413.9 1002.6 415.5 L921 457.8 Q918 459.5 913.5 457 L909.8 454.8 Q905.4 452.3 908.4 450.6" stroke-width="0.9" fill="none" stroke-dasharray="2.3 1.3" style="stroke:#fff;stroke-linecap:butt"/>
<path d="M907.5 451.1 L991.3 404.7" stroke-width="2.9" fill="none"/>
<path d="M917.7 452 L996.7 409.6" stroke-width="1.2" fill="none"/>
<path d="M909.2 453 L917.7 452 L921.2 456" stroke-width="1.1" fill="none"/>
<path d="M995.2 406 L996.7 409.6" stroke-width="1" fill="none"/>
<path d="M1017.9 420.6 Q1021 418.9 1025.1 422.6 L1028.7 425.8 Q1032.8 429.5 1029.7 431.2 L947.9 473.4 Q944.8 475.1 940.4 472.6 L936.6 470.4 Q932.2 467.9 935.3 466.2" stroke-width="2.4" fill="none" style="stroke-linecap:butt"/>
<path d="M1017.9 420.6 Q1021 418.9 1025.1 422.6 L1028.7 425.8 Q1032.8 429.5 1029.7 431.2 L947.9 473.4 Q944.8 475.1 940.4 472.6 L936.6 470.4 Q932.2 467.9 935.3 466.2" stroke-width="0.9" fill="none" stroke-dasharray="2.3 1.3" style="stroke:#fff;stroke-linecap:butt"/>
<path d="M934.4 466.7 L1018.4 420.3" stroke-width="2.9" fill="none"/>
<path d="M944.6 467.6 L1023.8 425.2" stroke-width="1.2" fill="none"/>
<path d="M936 468.6 L944.6 467.6 L948.1 471.6" stroke-width="1.1" fill="none"/>
<path d="M1022.3 421.6 L1023.8 425.2" stroke-width="1" fill="none"/>
<path d="M1045 436.2 Q1048.1 434.5 1052.2 438.3 L1055.8 441.4 Q1059.9 445.1 1056.8 446.8 L974.7 489 Q971.7 490.7 967.2 488.2 L963.5 486 Q959.1 483.5 962.1 481.8" stroke-width="2.4" fill="none" style="stroke-linecap:butt"/>
<path d="M1045 436.2 Q1048.1 434.5 1052.2 438.3 L1055.8 441.4 Q1059.9 445.1 1056.8 446.8 L974.7 489 Q971.7 490.7 967.2 488.2 L963.5 486 Q959.1 483.5 962.1 481.8" stroke-width="0.9" fill="none" stroke-dasharray="2.3 1.3" style="stroke:#fff;stroke-linecap:butt"/>
<path d="M961.2 482.3 L1045.5 436" stroke-width="2.9" fill="none"/>
<path d="M971.4 483.2 L1050.9 440.9" stroke-width="1.2" fill="none"/>
<path d="M962.9 484.2 L971.4 483.2 L975 487.2" stroke-width="1.1" fill="none"/>
<path d="M1049.4 437.2 L1050.9 440.9" stroke-width="1" fill="none"/>
<path d="M1072.1 451.9 Q1075.2 450.2 1079.3 453.9 L1082.9 457.1 Q1087 460.8 1083.9 462.5 L1001.6 504.6 Q998.5 506.3 994.1 503.8 L990.3 501.6 Q985.9 499.1 989 497.4" stroke-width="2.4" fill="none" style="stroke-linecap:butt"/>
<path d="M1072.1 451.9 Q1075.2 450.2 1079.3 453.9 L1082.9 457.1 Q1087 460.8 1083.9 462.5 L1001.6 504.6 Q998.5 506.3 994.1 503.8 L990.3 501.6 Q985.9 499.1 989 497.4" stroke-width="0.9" fill="none" stroke-dasharray="2.3 1.3" style="stroke:#fff;stroke-linecap:butt"/>
<path d="M988.1 497.9 L1072.6 451.6" stroke-width="2.9" fill="none"/>
<path d="M998.3 498.8 L1078 456.5" stroke-width="1.2" fill="none"/>
<path d="M989.7 499.8 L998.3 498.8 L1001.8 502.8" stroke-width="1.1" fill="none"/>
<path d="M1076.5 452.9 L1078 456.5" stroke-width="1" fill="none"/>
<path d="M1157.6 496.7 L1165.9 503.4 L1163.4 506.7 L1135 521.8" stroke-width="2.2" fill="none" style="stroke-linecap:butt"/>
<path d="M1157.6 496.7 L1165.9 503.4 L1163.4 506.7 L1135 521.8" stroke-width="0.8" fill="none" stroke-dasharray="2.3 1.3" style="stroke:#fff;stroke-linecap:butt"/>
<path d="M1133.5 510 C1136.4 507.9 1147.5 499.6 1150.9 497.4 C1154.3 495.1 1152.9 496.6 1154 496.5 C1155.1 496.4 1157 496.8 1157.6 496.8" stroke-width="2.8" fill="none"/>
<path d="M1135.5 515.3 L1159.2 502.5" stroke-width="1.1" fill="none"/>
<path d="M646.5 309 L650.5 306.5 L654 309 L652 313 L649.5 310" stroke-width="1.4" fill="none"/>
<path d="M753.5 370.5 L757.5 368 L761 370.5 L759 374.5 L756.5 371.5" stroke-width="1.4" fill="none"/>
<path d="M861 433.5 L865 431 L868.5 433.5 L866.5 437.5 L864 434.5" stroke-width="1.4" fill="none"/>
<path d="M968.5 496 L972.5 493.5 L976 496 L974 500 L971.5 497" stroke-width="1.4" fill="none"/>
<path d="M1124.6 473.5 C1125.7 475.4 1129.2 480.6 1131 485 C1132.8 489.4 1134.5 492.5 1135.2 500 C1136 507.5 1135.6 520 1135.5 530 C1135.4 540 1135 549.2 1134.5 560 C1134 570.8 1133.4 587.7 1132.8 595 C1132.2 602.3 1132 601.3 1131 604 C1130 606.7 1128.6 609 1126.6 611 C1124.6 613 1120.3 615.2 1119 616" stroke-width="2" fill="none"/>
<path d="M1121 472 C1122.2 475 1126.4 482 1128 490 C1129.6 498 1130.1 505.8 1130.5 520 C1130.9 534.2 1130.7 561.7 1130.5 575 C1130.3 588.3 1129.7 595.8 1129.5 600" stroke-width="1.1" fill="none"/>
<path d="M1065.5 468.5 L1065.9 483.1" stroke-width="1.3" fill="none"/>
<path d="M1072.1 464.2 L1072.4 481.6 L1069.2 485.5" stroke-width="1.3" fill="none"/>
<path d="M1067.5 476 L1072.3 473.5" stroke-width="1" fill="none"/>
<path d="M1074.3 462.7 C1074.9 463.3 1076.3 465.3 1077.9 466.5 C1079.5 467.7 1081.5 469.4 1083.7 470 C1085.9 470.6 1088.7 470.6 1091 470 C1093.3 469.4 1095.3 468 1097.5 466.5 C1099.7 465 1103 462.1 1104.1 461.2" stroke-width="1.9" fill="none"/>
<path d="M1088.1 492.6 L1122.4 473.6" stroke-width="1.1" fill="none"/>
<path d="M1090.3 499.1 L1123.8 478.7" stroke-width="1.1" fill="none"/>
<path d="M1126 475.8 C1127 477.5 1130.5 482 1131.8 486 C1133 490 1133.2 497.7 1133.5 500" stroke-width="1.1" fill="none"/>
<path d="M1132 485 L1136.5 486.5 L1137 490.5 L1133.5 490" stroke-width="1.4" fill="none"/>
<path d="M1191 512.2 L1136.3 541.3" stroke-width="1.2" fill="none"/>
<path d="M1193.5 518.4 L1136 551" stroke-width="1.2" fill="none"/>
<path d="M1200.1 524.3 L1136 562.7" stroke-width="1.2" fill="none"/>
<path d="M1135.5 533.4 C1137.5 534.4 1144.9 537.7 1147.5 539.3 C1150.1 540.9 1150 541.6 1151 543 C1152 544.4 1153 546.8 1153.4 547.6" stroke-width="1.9" fill="none"/>
<path d="M1154.5 541 L1176 528.6" stroke-width="1.3" fill="none"/>
<path d="M1159.5 548.2 L1181 535.6" stroke-width="1.3" fill="none"/>
<ellipse cx="1156.8" cy="544.6" rx="3" ry="4.2" stroke-width="1.8" fill="none" transform="rotate(30 1156.8 544.6)"/>
<ellipse cx="1178.4" cy="532" rx="2.8" ry="4" stroke-width="1.3" fill="none" transform="rotate(30 1178.4 532)"/>
<path d="M1181.8 535 L1181.8 543.5" stroke-width="1.3" fill="none"/>
<path d="M1188.4 531.8 L1188.4 541" stroke-width="1.3" fill="none"/>
<path d="M1191 529.4 Q1191 528 1193 528 L1197 528.2 Q1198.6 528.4 1198.6 530 L1198.4 535.5 Q1198.2 537 1196.5 537 L1192.5 536.6 Q1191 536.4 1191 535 Z" stroke-width="1.6" fill="none"/>
<path d="M848.9 771.8 C849.2 771 848.8 771.9 851 766.8 C853.2 761.7 858.5 749.1 862 741 C865.5 732.9 869.2 724 872 718 C874.8 712 876.7 708.4 878.7 705.1 C880.7 701.9 882 700.3 884 698.5 C886 696.7 889.5 694.9 890.6 694.2" stroke-width="1.4" fill="none"/>
<path d="M890.6 694.2 L1131 556.3" stroke-width="1.4" fill="none"/>
<path d="M850.9 766.8 L1126.6 610.8" stroke-width="1.4" fill="none"/>
<path d="M848.9 771.8 L850.9 766.8" stroke-width="1.4" fill="none"/>
<path d="M786.5 680.5 C785.6 681.2 782.2 682.5 781 684.5 C779.8 686.5 779 688.2 779 692.5 C779 696.8 780.4 705.2 781 710.5 C781.6 715.8 782 721.6 782.5 724.5 C783 727.4 782.8 727.7 784 728 C785.2 728.3 787.5 727.5 789.5 726.5 C791.5 725.5 794.6 723.3 796 722 C797.4 720.7 797.7 721.8 797.8 718.5 C797.9 715.2 797.1 707.8 796.5 702.5 C795.9 697.2 794.8 690 794 686.5 C793.2 683 792.8 682.5 791.5 681.5 C790.2 680.5 787.3 680.7 786.5 680.5" stroke-width="1.9" fill="none"/>
<path d="M787 684.5 C786.4 685.2 784.2 686.8 783.5 688.5 C782.8 690.2 782.4 690.8 782.5 694.5 C782.6 698.2 783.7 705.8 784.2 710.5 C784.7 715.2 784.8 720.3 785.5 722.5 C786.2 724.7 787 724.1 788.5 723.5 C790 722.9 793.7 722.5 794.5 719 C795.3 715.5 794 707.4 793.5 702.5 C793 697.6 792.2 692.3 791.5 689.5 C790.8 686.7 790.2 686.3 789.5 685.5 C788.8 684.7 787.4 684.7 787 684.5" stroke-width="1.3" fill="none"/>
<path d="M781 692.5 C781.6 693.2 783.1 695.9 784.5 696.5 C785.9 697.1 788.2 696.8 789.5 696 C790.8 695.2 792 692.2 792.5 691.5" stroke-width="1.1" fill="none"/>
<path d="M894.8 617 C893.9 617.7 890.5 619 889.3 621 C888 623 887.3 624.7 887.3 629 C887.3 633.3 888.7 641.7 889.3 647 C889.9 652.3 890.3 658.1 890.8 661 C891.3 663.9 891.1 664.2 892.3 664.5 C893.5 664.8 895.8 664 897.8 663 C899.8 662 902.9 659.8 904.3 658.5 C905.7 657.2 906 658.2 906.1 655 C906.2 651.8 905.4 644.3 904.8 639 C904.2 633.7 903.1 626.5 902.3 623 C901.5 619.5 901 619 899.8 618 C898.5 617 895.6 617.2 894.8 617" stroke-width="1.9" fill="none"/>
<path d="M895.3 621 C894.7 621.7 892.5 623.3 891.8 625 C891 626.7 890.7 627.3 890.8 631 C890.9 634.7 892 642.3 892.5 647 C893 651.7 893.1 656.8 893.8 659 C894.5 661.2 895.3 660.6 896.8 660 C898.3 659.4 902 659 902.8 655.5 C903.6 652 902.3 643.9 901.8 639 C901.3 634.1 900.5 628.8 899.8 626 C899.1 623.2 898.5 622.8 897.8 622 C897 621.2 895.7 621.2 895.3 621" stroke-width="1.3" fill="none"/>
<path d="M889.3 629 C889.9 629.7 891.4 632.4 892.8 633 C894.2 633.6 896.5 633.3 897.8 632.5 C899.1 631.7 900.3 628.8 900.8 628" stroke-width="1.1" fill="none"/>
<path d="M1003.2 555.5 C1002.3 556.2 999 557.5 997.7 559.5 C996.5 561.5 995.7 563.2 995.7 567.5 C995.7 571.8 997.1 580.2 997.7 585.5 C998.3 590.8 998.7 596.6 999.2 599.5 C999.7 602.4 999.5 602.7 1000.7 603 C1001.9 603.3 1004.2 602.5 1006.2 601.5 C1008.2 600.5 1011.3 598.3 1012.7 597 C1014.1 595.7 1014.4 596.8 1014.5 593.5 C1014.6 590.2 1013.8 582.8 1013.2 577.5 C1012.6 572.2 1011.5 565 1010.7 561.5 C1009.9 558 1009.5 557.5 1008.2 556.5 C1007 555.5 1004 555.7 1003.2 555.5" stroke-width="1.9" fill="none"/>
<path d="M1003.7 559.5 C1003.1 560.2 1001 561.8 1000.2 563.5 C999.5 565.2 999.1 565.8 999.2 569.5 C999.3 573.2 1000.4 580.8 1000.9 585.5 C1001.4 590.2 1001.5 595.3 1002.2 597.5 C1002.9 599.7 1003.7 599.1 1005.2 598.5 C1006.7 597.9 1010.4 597.5 1011.2 594 C1012 590.5 1010.7 582.4 1010.2 577.5 C1009.7 572.6 1008.9 567.3 1008.2 564.5 C1007.5 561.7 1007 561.3 1006.2 560.5 C1005.5 559.7 1004.1 559.7 1003.7 559.5" stroke-width="1.3" fill="none"/>
<path d="M997.7 567.5 C998.3 568.2 999.8 570.9 1001.2 571.5 C1002.6 572.1 1004.9 571.8 1006.2 571 C1007.5 570.2 1008.7 567.2 1009.2 566.5" stroke-width="1.1" fill="none"/>
<path d="M1110.6 492 C1109.7 492.7 1106.3 494 1105.1 496 C1103.8 498 1103.1 499.7 1103.1 504 C1103.1 508.3 1104.5 516.7 1105.1 522 C1105.7 527.3 1106.1 533.1 1106.6 536 C1107.1 538.9 1106.9 539.2 1108.1 539.5 C1109.3 539.8 1111.6 539 1113.6 538 C1115.6 537 1118.7 534.8 1120.1 533.5 C1121.5 532.2 1121.8 533.2 1121.9 530 C1122 526.8 1121.2 519.3 1120.6 514 C1120 508.7 1118.9 501.5 1118.1 498 C1117.3 494.5 1116.8 494 1115.6 493 C1114.3 492 1111.4 492.2 1110.6 492" stroke-width="1.9" fill="none"/>
<path d="M1111.1 496 C1110.5 496.7 1108.3 498.3 1107.6 500 C1106.8 501.7 1106.5 502.3 1106.6 506 C1106.7 509.7 1107.8 517.3 1108.3 522 C1108.8 526.7 1108.9 531.8 1109.6 534 C1110.3 536.2 1111.1 535.6 1112.6 535 C1114.1 534.4 1117.8 534 1118.6 530.5 C1119.4 527 1118.1 518.9 1117.6 514 C1117.1 509.1 1116.3 503.8 1115.6 501 C1114.9 498.2 1114.3 497.8 1113.6 497 C1112.8 496.2 1111.5 496.2 1111.1 496" stroke-width="1.3" fill="none"/>
<path d="M1105.1 504 C1105.7 504.7 1107.2 507.4 1108.6 508 C1110 508.6 1112.3 508.3 1113.6 507.5 C1114.9 506.7 1116.1 503.8 1116.6 503" stroke-width="1.1" fill="none"/>
</g>
<g id="frame">
<ellipse cx="529.2" cy="1099.5" rx="2.1" ry="1.8" stroke-width="1.1" fill="#000" transform="rotate(30 529.2 1099.5)"/>
<path d="M533.2 1096.6 L616.7 1048.8" stroke-width="1.3" fill="none"/>
<path d="M653 1023 L706 997" stroke-width="1.3" fill="none"/>
<path d="M608.7 783.9 L1069.5 1050.5 L1059 1059 L1059 1081 L591.8 815.9 L595.8 790.9Z" fill="#fff" style="stroke:none"/>
<path d="M608.7 783.9 L1069.5 1050.5" stroke-width="1.4" fill="none"/>
<path d="M610.2 786.1 L1067.5 1052.1" stroke-width="0.9" fill="none"/>
<path d="M595.8 790.9 L1059 1059" stroke-width="1.3" fill="none"/>
<path d="M596.8 794.9 L1059 1062.5" stroke-width="1" fill="none"/>
<path d="M595.8 808.9 L1047 1071.5" stroke-width="1.2" fill="none"/>
<path d="M591.3 811.9 L1050 1080.5" stroke-width="1.3" fill="none"/>
<path d="M591.8 814.9 L1044 1080" stroke-width="1" fill="none"/>
<ellipse cx="683" cy="864.1" rx="1.8" ry="1.6" stroke-width="1.1" fill="#000" transform="rotate(30 683 864.1)"/>
<ellipse cx="765.6" cy="912.5" rx="1.8" ry="1.6" stroke-width="1.1" fill="#000" transform="rotate(30 765.6 912.5)"/>
<ellipse cx="848.2" cy="960.8" rx="1.8" ry="1.6" stroke-width="1.1" fill="#000" transform="rotate(30 848.2 960.8)"/>
<ellipse cx="930.7" cy="1009.2" rx="1.8" ry="1.6" stroke-width="1.1" fill="#000" transform="rotate(30 930.7 1009.2)"/>
<path d="M608.7 783.9 L603.2 785.1 L595.8 790.9" stroke-width="1.4" fill="none"/>
<path d="M595.8 790.9 L595.8 808.9 L591.3 811.9 L591.8 814.9" stroke-width="1.3" fill="none"/>
<ellipse cx="608.2" cy="791.4" rx="2.8" ry="1.9" stroke-width="1.1" fill="none" transform="rotate(28 608.2 791.4)"/>
<ellipse cx="624.2" cy="800.6" rx="1.7" ry="1.5" stroke-width="1.1" fill="#000" transform="rotate(30 624.2 800.6)"/>
<ellipse cx="597.3" cy="813.9" rx="2.3" ry="2" stroke-width="1.1" fill="#000" transform="rotate(30 597.3 813.9)"/>
<ellipse cx="1053.2" cy="1048.4" rx="3" ry="2" stroke-width="1.1" fill="none" transform="rotate(28 1053.2 1048.4)"/>
<ellipse cx="1037.2" cy="1039.1" rx="1.7" ry="1.5" stroke-width="1.1" fill="#000" transform="rotate(30 1037.2 1039.1)"/>
<path d="M1069.5 1050.5 L1069 1053.5 L1059 1059" stroke-width="1.4" fill="none"/>
<path d="M1059 1059 L1059 1079" stroke-width="1.4" fill="none"/>
<path d="M1059 1079 C1058.7 1079.5 1058.2 1081.4 1057 1082 C1055.8 1082.6 1054 1083 1052 1082.5 C1050 1082 1046.2 1079.6 1045 1079" stroke-width="1.4" fill="none"/>
<ellipse cx="1044" cy="1074.5" rx="2.3" ry="2" stroke-width="1.1" fill="#000" transform="rotate(30 1044 1074.5)"/>
<ellipse cx="833.5" cy="919.1" rx="1.8" ry="1.6" stroke-width="1.1" fill="#000" transform="rotate(30 833.5 919.1)"/>
<path d="M630.9 913.5 L710.2 868.4 L723.8 876.1 L723.8 885.6 L719.3 892.2 L656.3 928.1Z" fill="#fff" style="stroke:none"/>
<path d="M630.9 913.5 L710.2 868.4" stroke-width="1.7" fill="none"/>
<path d="M644.4 921.3 L723.8 876.1" stroke-width="1.2" fill="none"/>
<path d="M645.9 923.5 L723.8 878.7" stroke-width="1" fill="none"/>
<path d="M656.3 928.1 L719.3 892.2" stroke-width="1.3" fill="none"/>
<path d="M710.2 868.4 L723.8 876.1 L723.8 885.6 L719.3 892.2" stroke-width="1.4" fill="none"/>
<path d="M850.8 1040.1 L930.3 994.8 L943.9 1002.5 L943.9 1012 L939.4 1018.7 L876.2 1054.7Z" fill="#fff" style="stroke:none"/>
<path d="M850.8 1040.1 L930.3 994.8" stroke-width="1.7" fill="none"/>
<path d="M864.3 1047.9 L943.9 1002.5" stroke-width="1.2" fill="none"/>
<path d="M865.8 1050.1 L943.9 1005.1" stroke-width="1" fill="none"/>
<path d="M876.2 1054.7 L939.4 1018.7" stroke-width="1.3" fill="none"/>
<path d="M930.3 994.8 L943.9 1002.5 L943.9 1012 L939.4 1018.7" stroke-width="1.4" fill="none"/>
<path d="M516.3 847.5 L969.1 1108.2 L958.6 1116.7 L958.6 1138.7 L499.4 879.5 L503.4 854.5Z" fill="#fff" style="stroke:none"/>
<path d="M516.3 847.5 L969.1 1108.2" stroke-width="1.9" fill="none"/>
<path d="M503.4 854.5 L958.6 1116.7" stroke-width="1.3" fill="none"/>
<path d="M504.4 858.5 L958.6 1120.2" stroke-width="1" fill="none"/>
<path d="M503.4 872.5 L946.6 1129.2" stroke-width="1.2" fill="none"/>
<path d="M498.9 875.5 L949.6 1138.2" stroke-width="1.3" fill="none"/>
<path d="M499.4 878.5 L943.6 1137.7" stroke-width="1" fill="none"/>
<ellipse cx="589" cy="926.5" rx="1.8" ry="1.6" stroke-width="1.1" fill="#000" transform="rotate(30 589 926.5)"/>
<ellipse cx="670.2" cy="973.8" rx="1.8" ry="1.6" stroke-width="1.1" fill="#000" transform="rotate(30 670.2 973.8)"/>
<ellipse cx="751.3" cy="1021.1" rx="1.8" ry="1.6" stroke-width="1.1" fill="#000" transform="rotate(30 751.3 1021.1)"/>
<ellipse cx="832.4" cy="1068.4" rx="1.8" ry="1.6" stroke-width="1.1" fill="#000" transform="rotate(30 832.4 1068.4)"/>
<path d="M516.3 847.5 L510.8 848.7 L503.4 854.5" stroke-width="1.4" fill="none"/>
<path d="M503.4 854.5 L503.4 872.5 L498.9 875.5 L499.4 878.5" stroke-width="1.3" fill="none"/>
<ellipse cx="515.8" cy="855" rx="2.8" ry="1.9" stroke-width="1.1" fill="none" transform="rotate(28 515.8 855)"/>
<ellipse cx="531.8" cy="864.2" rx="1.7" ry="1.5" stroke-width="1.1" fill="#000" transform="rotate(30 531.8 864.2)"/>
<ellipse cx="504.9" cy="877.5" rx="2.3" ry="2" stroke-width="1.1" fill="#000" transform="rotate(30 504.9 877.5)"/>
<ellipse cx="952.9" cy="1106.1" rx="3" ry="2" stroke-width="1.1" fill="none" transform="rotate(28 952.9 1106.1)"/>
<ellipse cx="936.9" cy="1096.9" rx="1.7" ry="1.5" stroke-width="1.1" fill="#000" transform="rotate(30 936.9 1096.9)"/>
<path d="M969.1 1108.2 L969.1 1119.2" stroke-width="1.4" fill="none"/>
<path d="M969.1 1108.2 L962.1 1112.7 L956.6 1120.7" stroke-width="1.1" fill="none"/>
<ellipse cx="970.6" cy="1120.2" rx="2.6" ry="2.6" stroke-width="1.4" fill="none"/>
<path d="M958.6 1116.7 L958.6 1131.7" stroke-width="1.4" fill="none"/>
<path d="M958.6 1131.7 C958.3 1132.3 957.8 1134.5 956.6 1135.2 C955.4 1136 953.5 1136.8 951.6 1136.2 C949.7 1135.6 946.2 1132.5 945.1 1131.7" stroke-width="1.4" fill="none"/>
<path d="M959.1 1116.7 L956.6 1120.7" stroke-width="1.1" fill="none"/>
<ellipse cx="950.1" cy="1131.2" rx="2.5" ry="2.2" stroke-width="1.1" fill="#000" transform="rotate(30 950.1 1131.2)"/>
<path d="M541.8 964.2 L610.8 924.9 L624.4 932.6 L624.4 942.1 L619.9 948.8 L567.2 978.8Z" fill="#fff" style="stroke:none"/>
<path d="M541.8 964.2 L610.8 924.9" stroke-width="1.7" fill="none"/>
<path d="M555.3 971.9 L624.4 932.6" stroke-width="1.2" fill="none"/>
<path d="M556.8 974.1 L624.4 935.2" stroke-width="1" fill="none"/>
<path d="M567.2 978.8 L619.9 948.8" stroke-width="1.3" fill="none"/>
<path d="M610.8 924.9 L624.4 932.6 L624.4 942.1 L619.9 948.8" stroke-width="1.4" fill="none"/>
<path d="M762 1090.7 L832.8 1050.4 L846.4 1058.1 L846.4 1067.6 L841.9 1074.2 L787.4 1105.3Z" fill="#fff" style="stroke:none"/>
<path d="M762 1090.7 L832.8 1050.4" stroke-width="1.7" fill="none"/>
<path d="M775.5 1098.5 L846.4 1058.1" stroke-width="1.2" fill="none"/>
<path d="M777 1100.7 L846.4 1060.7" stroke-width="1" fill="none"/>
<path d="M787.4 1105.3 L841.9 1074.2" stroke-width="1.3" fill="none"/>
<path d="M832.8 1050.4 L846.4 1058.1 L846.4 1067.6 L841.9 1074.2" stroke-width="1.4" fill="none"/>
<ellipse cx="735" cy="980.8" rx="2.4" ry="1.6" stroke-width="1.1" fill="none" transform="rotate(28 735 980.8)"/>
<path d="M849 1078 C848.6 1079.7 846.5 1085.3 846.5 1088 C846.5 1090.7 847.6 1092.9 849 1094 C850.4 1095.1 853.2 1095.5 855 1094.5 C856.8 1093.5 858.5 1090.4 859.5 1088 C860.5 1085.6 860.8 1081.3 861 1080" stroke-width="1.3" fill="none"/>
<ellipse cx="853.5" cy="1086.5" rx="2.2" ry="3.6" stroke-width="1.3" fill="none" transform="rotate(25 853.5 1086.5)"/>
<ellipse cx="857.5" cy="1079.5" rx="2.5" ry="2.2" stroke-width="1.1" fill="#000" transform="rotate(30 857.5 1079.5)"/>
<path d="M427.7 898.6 L880.6 1158.9 L870.1 1167.4 L870.1 1189.4 L410.8 930.6 L414.8 905.6Z" fill="#fff" style="stroke:none"/>
<path d="M427.7 898.6 L880.6 1158.9" stroke-width="1.9" fill="none"/>
<path d="M414.8 905.6 L870.1 1167.4" stroke-width="1.3" fill="none"/>
<path d="M415.8 909.6 L870.1 1170.9" stroke-width="1" fill="none"/>
<path d="M414.8 923.6 L858.1 1179.9" stroke-width="1.2" fill="none"/>
<path d="M410.3 926.6 L861.1 1188.9" stroke-width="1.3" fill="none"/>
<path d="M410.8 929.6 L855.1 1188.4" stroke-width="1" fill="none"/>
<ellipse cx="500.5" cy="977.6" rx="1.8" ry="1.6" stroke-width="1.1" fill="#000" transform="rotate(30 500.5 977.6)"/>
<ellipse cx="581.6" cy="1024.8" rx="1.8" ry="1.6" stroke-width="1.1" fill="#000" transform="rotate(30 581.6 1024.8)"/>
<ellipse cx="662.7" cy="1072" rx="1.8" ry="1.6" stroke-width="1.1" fill="#000" transform="rotate(30 662.7 1072)"/>
<ellipse cx="743.9" cy="1119.2" rx="1.8" ry="1.6" stroke-width="1.1" fill="#000" transform="rotate(30 743.9 1119.2)"/>
<path d="M427.7 898.6 L422.2 899.8 L414.8 905.6" stroke-width="1.4" fill="none"/>
<path d="M414.8 905.6 L414.8 923.6 L410.3 926.6 L410.8 929.6" stroke-width="1.3" fill="none"/>
<ellipse cx="427.2" cy="906" rx="2.8" ry="1.9" stroke-width="1.1" fill="none" transform="rotate(28 427.2 906)"/>
<ellipse cx="443.2" cy="915.2" rx="1.7" ry="1.5" stroke-width="1.1" fill="#000" transform="rotate(30 443.2 915.2)"/>
<ellipse cx="416.3" cy="928.5" rx="2.3" ry="2" stroke-width="1.1" fill="#000" transform="rotate(30 416.3 928.5)"/>
<ellipse cx="864.4" cy="1156.8" rx="3" ry="2" stroke-width="1.1" fill="none" transform="rotate(28 864.4 1156.8)"/>
<ellipse cx="848.4" cy="1147.6" rx="1.7" ry="1.5" stroke-width="1.1" fill="#000" transform="rotate(30 848.4 1147.6)"/>
<path d="M880.6 1158.9 L880.6 1169.9" stroke-width="1.4" fill="none"/>
<path d="M880.6 1158.9 L873.6 1163.4 L868.1 1171.4" stroke-width="1.1" fill="none"/>
<ellipse cx="882.1" cy="1170.9" rx="2.6" ry="2.6" stroke-width="1.4" fill="none"/>
<path d="M870.1 1167.4 L870.1 1182.4" stroke-width="1.4" fill="none"/>
<path d="M870.1 1182.4 C869.8 1183 869.3 1185.2 868.1 1185.9 C866.9 1186.7 865 1187.5 863.1 1186.9 C861.2 1186.3 857.7 1183.2 856.6 1182.4" stroke-width="1.4" fill="none"/>
<path d="M870.6 1167.4 L868.1 1171.4" stroke-width="1.1" fill="none"/>
<ellipse cx="861.6" cy="1181.9" rx="2.5" ry="2.2" stroke-width="1.1" fill="#000" transform="rotate(30 861.6 1181.9)"/>
<ellipse cx="646.8" cy="1031.7" rx="2.4" ry="1.6" stroke-width="1.1" fill="none" transform="rotate(28 646.8 1031.7)"/>
<path d="M482.4 981.2 L484 975 L491.4 972.2 L507.3 977.2 L500 993 L484 993Z" fill="#fff" style="stroke:none"/>
<path d="M484 993.5 C483.7 992.1 482.3 988 482.4 985 C482.5 982 483 977.6 484.5 975.5 C486 973.4 489.5 972.7 491.4 972.2 C493.3 971.7 495.2 972.5 496 972.6" stroke-width="1.3" fill="none"/>
<path d="M484.5 980.5 L497 988" stroke-width="1.1" fill="none"/>
<ellipse cx="500.5" cy="979.3" rx="2.6" ry="1.8" stroke-width="1.1" fill="none" transform="rotate(28 500.5 979.3)"/>
<path d="M484 993.5 L490 990.5" stroke-width="1.1" fill="none"/>
<path d="M420.4 1033.3 L523.2 974.8 L536.8 982.5 L536.8 992 L532.3 998.6 L445.7 1047.9Z" fill="#fff" style="stroke:none"/>
<path d="M420.4 1033.3 L523.2 974.8" stroke-width="1.7" fill="none"/>
<path d="M433.8 1041.1 L536.8 982.5" stroke-width="1.2" fill="none"/>
<path d="M435.3 1043.3 L536.8 985.1" stroke-width="1" fill="none"/>
<path d="M445.7 1047.9 L532.3 998.6" stroke-width="1.3" fill="none"/>
<path d="M523.2 974.8 L536.8 982.5 L536.8 992 L532.3 998.6" stroke-width="1.4" fill="none"/>
<path d="M640.3 1160.1 L743.1 1101.5 L756.7 1109.2 L756.7 1118.7 L752.2 1125.4 L665.7 1174.7Z" fill="#fff" style="stroke:none"/>
<path d="M640.3 1160.1 L743.1 1101.5" stroke-width="1.7" fill="none"/>
<path d="M653.8 1167.9 L756.7 1109.2" stroke-width="1.2" fill="none"/>
<path d="M655.3 1170.1 L756.7 1111.8" stroke-width="1" fill="none"/>
<path d="M665.7 1174.7 L752.2 1125.4" stroke-width="1.3" fill="none"/>
<path d="M743.1 1101.5 L756.7 1109.2 L756.7 1118.7 L752.2 1125.4" stroke-width="1.4" fill="none"/>
<path d="M736 1127 L746 1119 L765 1129 L765 1143 L752 1148.5 L738 1140Z" fill="#fff" style="stroke:none"/>
<path d="M736 1127 L746 1119.5 L765 1129 L752.5 1134.5 L736 1127" stroke-width="1.3" fill="none"/>
<path d="M736 1127 C736.1 1128.8 735.7 1135.3 736.5 1138 C737.3 1140.7 738.4 1141.2 741 1143 C743.6 1144.8 750.2 1147.6 752 1148.5" stroke-width="1.3" fill="none"/>
<path d="M752.5 1134.5 L752 1148.5 L764 1142.5 L765 1129" stroke-width="1.3" fill="none"/>
<ellipse cx="749.5" cy="1122.5" rx="2" ry="1.4" stroke-width="1.1" fill="none" transform="rotate(28 749.5 1122.5)"/>
<ellipse cx="742.5" cy="1137" rx="1.8" ry="2" stroke-width="1.1" fill="none" transform="rotate(28 742.5 1137)"/>
<ellipse cx="760.5" cy="1139" rx="1.8" ry="1.6" stroke-width="1.1" fill="#000" transform="rotate(30 760.5 1139)"/>
<ellipse cx="769" cy="1131.5" rx="2.3" ry="2" stroke-width="1.1" fill="#000" transform="rotate(30 769 1131.5)"/>
<path d="M299.3 963.5 L767 1233.1 L753.1 1241.1 L752.1 1250.1 L285.8 980.7Z" fill="#fff" style="stroke:none"/>
<path d="M299.3 963.5 L422.8 1034.7" stroke-width="1.9" fill="none"/>
<path d="M446 1048.1 L643.7 1162" stroke-width="1.9" fill="none"/>
<path d="M668 1176 L767 1233.1" stroke-width="1.9" fill="none"/>
<path d="M422.8 1034.7 L446 1048.1" stroke-width="1.1" fill="none"/>
<path d="M643.7 1162 L668 1176" stroke-width="1.1" fill="none"/>
<path d="M285.8 971.7 L753.1 1241.1" stroke-width="1.3" fill="none"/>
<path d="M286.3 981.2 L752.1 1250.1" stroke-width="1.3" fill="none"/>
<path d="M299.3 963.5 L293.3 964.5 L285.8 971.7 L286.3 981.2" stroke-width="1.4" fill="none"/>
<path d="M286.3 981.2 C288.2 981.8 295.6 983.2 298 985 C300.4 986.8 299.8 989.7 300.5 992 C301.2 994.3 302.2 997.8 302.5 999" stroke-width="1.1" fill="none"/>
<path d="M302.5 1005 L373 1046.5" stroke-width="1.1" fill="none"/>
<ellipse cx="302.5" cy="1003.5" rx="2.6" ry="3" stroke-width="1.6" fill="#111"/>
<ellipse cx="299.5" cy="1005" rx="2" ry="2.4" stroke-width="1.1" fill="none"/>
<ellipse cx="322" cy="979.5" rx="1.8" ry="1.3" stroke-width="1.1" fill="none" transform="rotate(28 322 979.5)"/>
<path d="M321 981 L323 983" stroke-width="1.1" fill="none"/>
<path d="M767 1233.1 L753.1 1241.1 L752.1 1250.1" stroke-width="1.4" fill="none"/>
<path d="M767 1233.1 L767 1243.1" stroke-width="1.4" fill="none"/>
<path d="M753.1 1241.1 L763.5 1242.1 L767 1243.1" stroke-width="1.1" fill="none"/>
<ellipse cx="769" cy="1244.6" rx="2.4" ry="2.4" stroke-width="1.3" fill="none"/>
<ellipse cx="735.5" cy="1218.5" rx="1.8" ry="1.3" stroke-width="1.1" fill="none" transform="rotate(28 735.5 1218.5)"/>
<path d="M734.5 1220 L737 1222" stroke-width="1.1" fill="none"/>
<path d="M655.6 1209.3 L727.2 1252" stroke-width="1.1" fill="none"/>
<ellipse cx="656.8" cy="1207.5" rx="2.8" ry="3.4" stroke-width="1.6" fill="#111"/>
<ellipse cx="660" cy="1212" rx="2.2" ry="2.6" stroke-width="1.1" fill="none"/>
<ellipse cx="667.5" cy="1222.2" rx="2.6" ry="3" stroke-width="1.5" fill="#111"/>
<path d="M663 1216 L668 1222 L666 1226" stroke-width="1.6" fill="none"/>
<path d="M668 1222 L676 1224 L672 1226.5 L666 1226" stroke-width="1.3" fill="none"/>
<ellipse cx="730.2" cy="1250" rx="2.8" ry="3.4" stroke-width="1.6" fill="#111"/>
<ellipse cx="734.5" cy="1251" rx="2.2" ry="2.6" stroke-width="1.1" fill="none"/>
<path d="M737 1250 C737.5 1249.2 738.9 1246 740 1245.5 C741.1 1245 743.2 1246.1 743.5 1247 C743.8 1247.9 742.2 1250.3 742 1251" stroke-width="1.1" fill="none"/>
<path d="M646 1192 C645.2 1193.3 642 1196.7 641 1200 C640 1203.3 639.8 1208.6 640 1212 C640.2 1215.4 640.7 1219.2 642 1220.5 C643.3 1221.8 645.8 1220.6 648 1219.5 C650.2 1218.4 653.9 1217.2 655 1214 C656.1 1210.8 655.3 1203.3 654.5 1200 C653.7 1196.7 650.8 1195 650 1194" stroke-width="1.3" fill="none"/>
<path d="M646 1192 L648.5 1190.5" stroke-width="1.1" fill="none"/>
<ellipse cx="647.5" cy="1203.5" rx="1.4" ry="1.7" stroke-width="1.1" fill="none" transform="rotate(28 647.5 1203.5)"/>
<ellipse cx="647" cy="1215.5" rx="1.3" ry="1.5" stroke-width="1.1" fill="none" transform="rotate(28 647 1215.5)"/>
<path d="M388.5 1049 C387.9 1050.5 385.7 1052.8 385 1058 C384.3 1063.2 384.5 1075.3 384.5 1080 C384.5 1084.7 384.9 1085 385 1086" stroke-width="1.3" fill="none"/>
<path d="M385 1086 L382.5 1089.5 L391 1094 L394 1090.5" stroke-width="1.2" fill="none"/>
<path d="M388 1087 L389 1060" stroke-width="1.1" fill="none"/>
<path d="M394 1090.5 L406.5 1065 L405.5 1062.5 L400.5 1065 L398.5 1059 L401.5 1056 L398 1049.5 L393.5 1046.5" stroke-width="1.2" fill="none"/>
<ellipse cx="395.5" cy="1058" rx="1.3" ry="1.3" stroke-width="1.1" fill="none" transform="rotate(28 395.5 1058)"/>
<ellipse cx="395.5" cy="1071.5" rx="1.3" ry="1.3" stroke-width="1.1" fill="none" transform="rotate(28 395.5 1071.5)"/>
<ellipse cx="400" cy="1065.5" rx="1.2" ry="1.2" stroke-width="1.1" fill="none" transform="rotate(28 400 1065.5)"/>
<path d="M366 1051.5 L371 1043.5 L372.5 1051 L376 1044 L378 1050.5 L381.5 1043.5 L384.5 1046" stroke-width="1.8" fill="none"/>
<path d="M373.5 1052 C373.7 1052.8 373.8 1056 374.5 1057 C375.2 1058 377.2 1058.5 377.5 1058 C377.8 1057.5 376.7 1054.7 376.5 1054" stroke-width="1.4" fill="none"/>
<path d="M190.9 997.4 C197.4 992.1 221.6 971.7 229.7 965.5 C237.8 959.3 236.7 961 239.6 960 C242.5 959 244.7 959.2 247 959.2 C249.3 959.2 247.1 957.1 253.5 959.8 C259.9 962.5 280.1 972.9 285.4 975.5" stroke-width="1.4" fill="none"/>
<path d="M197.8 1005.3 C203.5 1000.4 224.1 981.9 231.7 976 C239.3 970.1 240.3 970.9 243.6 969.8 C246.9 968.7 244.6 967.1 251.6 969.6 C258.6 972.1 279.8 982.1 285.4 984.6" stroke-width="1.4" fill="none"/>
<path d="M231 964.5 C232.4 963.8 236.9 960.9 239.6 960 C242.3 959.1 244.7 959.2 247 959.2 C249.3 959.2 252.4 959.7 253.5 959.8" stroke-width="2.2" fill="none"/>
<ellipse cx="194" cy="1001.2" rx="2.6" ry="5" stroke-width="1.4" fill="none" transform="rotate(38 194 1001.2)"/>
<ellipse cx="194.6" cy="1001.6" rx="1.3" ry="3" stroke-width="1.1" fill="none" transform="rotate(38 194.6 1001.6)"/>
<path d="M226.5 968 L230.5 977" stroke-width="1.1" fill="none"/>
<path d="M252 959.5 L252.5 969.8" stroke-width="1.1" fill="none"/>
<path d="M256 962 L283 975" stroke-width="0.9" fill="none" stroke-dasharray="5 2"/>
<path d="M755.1 1243.1 C762.7 1248.6 792.1 1269.7 800.8 1275.9 C809.4 1282.1 805.4 1278.8 807 1280.5 C808.6 1282.2 809.6 1284.1 810.2 1286 C810.8 1287.9 811 1289.4 810.6 1292 C810.2 1294.6 813.6 1294.9 807.8 1301.8 C802 1308.7 781.3 1328.3 776 1333.6" stroke-width="1.4" fill="none"/>
<path d="M752.1 1251 C759.2 1256 786.8 1275.1 794.8 1280.9 C802.8 1286.7 798.9 1284 800 1285.8 C801.1 1287.6 801.2 1289.5 801.2 1291.5 C801.2 1293.5 800.9 1295.6 800.2 1297.5 C799.5 1299.4 802.7 1297.4 796.8 1302.7 C790.9 1308 770.3 1325.1 765 1329.6" stroke-width="1.4" fill="none"/>
<ellipse cx="770.5" cy="1332" rx="5.2" ry="2.6" stroke-width="1.4" fill="none" transform="rotate(-8 770.5 1332)"/>
<ellipse cx="770.5" cy="1332.2" rx="3.2" ry="1.3" stroke-width="1.1" fill="none" transform="rotate(-8 770.5 1332.2)"/>
<path d="M799.5 1276.5 L796.5 1282" stroke-width="1.1" fill="none"/>
<path d="M808.5 1301.5 L798 1302.5" stroke-width="1.1" fill="none"/>
</g>
<g id="parts">
<ellipse cx="508.6" cy="109.6" rx="8" ry="5" stroke-width="1.6" fill="none"/>
<path d="M500.8 110.5 Q508.6 118.5 516.4 110.5" stroke-width="1.4" fill="none"/>
<path d="M505.2 106.5 L511.5 111.5" stroke-width="1.3" fill="none"/>
<path d="M505.5 111.2 L512 106.8" stroke-width="1.1" fill="none"/>
<path d="M505.4 114.5 L505.6 155.8 L508.6 160.3 L511.8 155.8 L512 114.5" stroke-width="1.4" fill="none"/>
<path d="M506.3 155.8 L511.5 155.8" stroke-width="1.1" fill="none"/>
<path d="M507.2 115 L507.4 155" stroke-width="0.9" fill="none"/>
<text transform="translate(441 119.5) scale(0.86 1)" font-size="26.5">1</text>
<path d="M455.3 116.4 L505.1 134.3" stroke-width="1.6" fill="none"/>
<ellipse cx="508.6" cy="187.3" rx="9.3" ry="6" stroke-width="1.5" fill="none"/>
<path d="M499.6 189.5 Q508.6 198 517.6 189.5" stroke-width="1.2" fill="none"/>
<ellipse cx="508.4" cy="186.2" rx="4.8" ry="2.9" stroke-width="1.7" fill="none"/>
<path d="M508.6 184 L508.6 187" stroke-width="1.1" fill="none"/>
<text transform="translate(438.2 174.1) scale(0.86 1)" font-size="26.5">2</text>
<path d="M449.4 167.6 L500.1 185.5" stroke-width="1.6" fill="none"/>
<text transform="translate(184 919.4) scale(0.86 1)" font-size="26.5">3</text>
<path d="M196.9 922.8 L227.7 967.5" stroke-width="1.6" fill="none"/>
<path d="M373.5 1188.4 L408.8 1205" stroke-width="1.4" fill="none"/>
<path d="M377.5 1180 L412.8 1196.6" stroke-width="1.4" fill="none"/>
<ellipse cx="375.5" cy="1184.2" rx="2.4" ry="5.8" stroke-width="1.6" fill="none" transform="rotate(25.2 375.5 1184.2)"/>
<path d="M379.9 1180.1 A2.4 5.8 25.2 0 0 375.1 1190.2" stroke-width="1.1" fill="none"/>
<ellipse cx="410.8" cy="1200.8" rx="2.2" ry="4.6" stroke-width="1.4" fill="none" transform="rotate(25.2 410.8 1200.8)"/>
<ellipse cx="408.1" cy="1199.5" rx="2.2" ry="4.6" stroke-width="1" fill="none" transform="rotate(25.2 408.1 1199.5)" stroke-dasharray="7.5 30" stroke-dashoffset="-3.5"/>
<path d="M182 1365.2 L216.8 1381.8" stroke-width="1.4" fill="none"/>
<path d="M186 1356.8 L220.8 1373.4" stroke-width="1.4" fill="none"/>
<ellipse cx="184" cy="1361" rx="2.4" ry="5.8" stroke-width="1.6" fill="none" transform="rotate(25.5 184 1361)"/>
<path d="M188.4 1356.9 A2.4 5.8 25.5 0 0 183.6 1367" stroke-width="1.1" fill="none"/>
<ellipse cx="218.8" cy="1377.6" rx="2.2" ry="4.6" stroke-width="1.4" fill="none" transform="rotate(25.5 218.8 1377.6)"/>
<ellipse cx="216.1" cy="1376.3" rx="2.2" ry="4.6" stroke-width="1" fill="none" transform="rotate(25.5 216.1 1376.3)" stroke-dasharray="7.5 30" stroke-dashoffset="-3.5"/>
<text transform="translate(134.4 1407.8) scale(0.86 1)" font-size="26.5">4</text>
<path d="M151 1395.7 L196.7 1373.3" stroke-width="1.6" fill="none"/>
<path d="M278.1 1402.8 L376 1316.9" stroke-width="1.4" fill="none"/>
<path d="M287.6 1414.7 L387.1 1326.4" stroke-width="1.4" fill="none"/>
<path d="M376 1316.9 C376.3 1316.2 376.9 1313.7 378 1312.5 C379.1 1311.3 380.8 1310.2 382.3 1309.7 C383.8 1309.2 385.6 1309.1 387 1309.6 C388.4 1310.1 389.9 1311.3 390.8 1312.6 C391.7 1313.9 392.6 1315.8 392.6 1317.5 C392.6 1319.2 391.9 1321 391 1322.5 C390.1 1324 387.8 1325.8 387.1 1326.4" stroke-width="1.4" fill="none"/>
<path d="M376 1316.9 C376.8 1317.4 379.2 1318.6 380.5 1320 C381.8 1321.4 382.9 1323.9 383.5 1325.5 C384.1 1327.1 383.9 1328.8 384 1329.5" stroke-width="1.4" fill="none"/>
<path d="M380.5 1312.5 C381.2 1313.1 383.8 1314.5 385 1316 C386.2 1317.5 387.5 1320 388 1321.5 C388.5 1323 388.2 1324.6 388.2 1325.2" stroke-width="1.1" fill="none"/>
<path d="M389.5 1308.9 L468.3 1238.9" stroke-width="1.4" fill="none"/>
<path d="M393.5 1315.3 L472.3 1246" stroke-width="1.4" fill="none"/>
<path d="M468.3 1237.3 C469.1 1236.5 471.4 1234 473 1232.5 C474.6 1231 476.4 1229.2 477.8 1228.5 C479.2 1227.8 480.4 1227.6 481.5 1228 C482.6 1228.4 483.8 1229.8 484.2 1230.9 C484.6 1232 484.6 1233.2 484.2 1234.5 C483.8 1235.8 483.4 1236.5 481.5 1238.5 C479.6 1240.5 474.4 1244.9 473 1246.2" stroke-width="1.4" fill="none"/>
<path d="M468.3 1237.3 L470 1243 L473 1246.2" stroke-width="1.4" fill="none"/>
<path d="M470 1243 L479.5 1234.5" stroke-width="1.1" fill="none"/>
<ellipse cx="481" cy="1233.3" rx="1.9" ry="2.9" stroke-width="1.4" fill="none" transform="rotate(40 481 1233.3)"/>
<path d="M278.1 1402.8 L274.1 1404.5" stroke-width="1.3" fill="none"/>
<path d="M274.1 1404.5 C273.4 1405.4 271.3 1408 270 1410 C268.7 1412 267 1414.5 266.3 1416.3 C265.6 1418 265.4 1419.3 265.6 1420.5 C265.8 1421.7 266.6 1423.1 267.5 1423.7 C268.4 1424.3 269 1424.9 270.9 1424.3 C272.8 1423.7 276.1 1421.9 278.9 1420.3 C281.7 1418.7 286.2 1415.6 287.6 1414.7" stroke-width="1.4" fill="none"/>
<path d="M274.1 1404.5 L276.5 1409 L281.5 1418.5" stroke-width="1.1" fill="none"/>
<ellipse cx="270.6" cy="1418.8" rx="2.1" ry="3.1" stroke-width="1.4" fill="none" transform="rotate(40 270.6 1418.8)"/>
<path d="M280.7 1404.2 L287 1414" stroke-width="2.6" fill="none"/>
<path d="M277.8 1406.5 L283.5 1416.5" stroke-width="1.3" fill="none"/>
<text transform="translate(426 1385.3) scale(0.86 1)" font-size="26.5">6</text>
<path d="M368 1338.3 L418.1 1368.6" stroke-width="1.6" fill="none"/>
<path d="M346.5 1463.2 L363.6 1453.6" stroke-width="1.5" fill="none"/>
<path d="M348.1 1466.4 L364 1455.2" stroke-width="1.5" fill="none"/>
<path d="M346.5 1463.2 L346.1 1465.5 L348.1 1466.4" stroke-width="1.5" fill="none"/>
<path d="M363.6 1453.6 C363.6 1452.7 363.4 1449.8 363.4 1448 C363.4 1446.2 363.2 1444.4 363.8 1442.9 C364.4 1441.4 365.8 1439.6 366.8 1438.9 C367.8 1438.2 369.1 1438 370 1438.5 C370.9 1439 372 1440.5 372.4 1441.7 C372.8 1443 372.5 1444.5 372.4 1446 C372.3 1447.5 372.3 1449 371.6 1450.4 C370.9 1451.8 369.2 1453.7 368 1454.4 C366.8 1455.1 365 1454.6 364.4 1454.6" stroke-width="1.6" fill="none"/>
<path d="M366.4 1450.4 C366.5 1449.8 366.8 1448.1 367 1447 C367.2 1445.9 367.3 1444.4 367.6 1443.7 C367.9 1443 368.6 1442.9 368.8 1442.7" stroke-width="1.5" fill="none"/>
<path d="M346.5 1456 C346.7 1455.6 347 1453.6 347.7 1453.6 C348.4 1453.6 349.9 1455.7 350.9 1456 C351.9 1456.3 353.2 1456.1 353.7 1455.2 C354.2 1454.3 353.6 1451.9 354.1 1450.8 C354.6 1449.7 356 1448.6 356.9 1448.5 C357.8 1448.4 358.8 1449.9 359.7 1450 C360.6 1450.1 361.7 1450.1 362.4 1448.9 C363.1 1447.7 363.6 1443.9 363.8 1442.9" stroke-width="1.6" fill="none"/>
<path d="M346.5 1456 C346.8 1456.2 347.2 1457 348.1 1457.4 C349 1457.8 350.4 1458.4 351.7 1458.2 C353 1458 354.8 1457.4 355.7 1456.4 C356.6 1455.4 356.8 1452.7 357.3 1452.4 C357.8 1452.1 357.8 1454.3 358.9 1454.4 C359.9 1454.5 362.8 1453.1 363.6 1452.8" stroke-width="1.5" fill="none"/>
<path d="M532.5 1296.6 L549.6 1287" stroke-width="1.5" fill="none"/>
<path d="M534.1 1299.8 L550 1288.6" stroke-width="1.5" fill="none"/>
<path d="M532.5 1296.6 L532.1 1298.9 L534.1 1299.8" stroke-width="1.5" fill="none"/>
<path d="M549.6 1287 C549.6 1286.1 549.4 1283.2 549.4 1281.4 C549.4 1279.6 549.2 1277.8 549.8 1276.3 C550.4 1274.8 551.8 1273 552.8 1272.3 C553.8 1271.6 555.1 1271.4 556 1271.9 C556.9 1272.4 558 1273.9 558.4 1275.1 C558.8 1276.4 558.5 1278 558.4 1279.4 C558.3 1280.9 558.3 1282.4 557.6 1283.8 C556.9 1285.2 555.2 1287.1 554 1287.8 C552.8 1288.5 551 1288 550.4 1288" stroke-width="1.6" fill="none"/>
<path d="M552.4 1283.8 C552.5 1283.2 552.8 1281.5 553 1280.4 C553.2 1279.3 553.3 1277.8 553.6 1277.1 C553.9 1276.4 554.6 1276.3 554.8 1276.1" stroke-width="1.5" fill="none"/>
<path d="M532.5 1289.4 C532.7 1289 533 1287 533.7 1287 C534.4 1287 535.9 1289.1 536.9 1289.4 C537.9 1289.7 539.2 1289.5 539.7 1288.6 C540.2 1287.7 539.6 1285.3 540.1 1284.2 C540.6 1283.1 542 1282 542.9 1281.9 C543.8 1281.8 544.8 1283.3 545.7 1283.4 C546.6 1283.5 547.7 1283.5 548.4 1282.3 C549.1 1281.1 549.6 1277.3 549.8 1276.3" stroke-width="1.6" fill="none"/>
<path d="M532.5 1289.4 C532.8 1289.6 533.2 1290.4 534.1 1290.8 C535 1291.2 536.4 1291.8 537.7 1291.6 C539 1291.4 540.8 1290.8 541.7 1289.8 C542.6 1288.8 542.8 1286.1 543.3 1285.8 C543.8 1285.5 543.8 1287.7 544.9 1287.8 C546 1287.9 548.8 1286.5 549.6 1286.2" stroke-width="1.5" fill="none"/>
<text transform="translate(416.4 1504.3) scale(0.86 1)" font-size="26.5">5</text>
<path d="M364.4 1454.8 L413.3 1484" stroke-width="1.6" fill="none"/>
<ellipse cx="948.5" cy="1228.8" rx="8.7" ry="7" stroke-width="1.7" fill="none"/>
<ellipse cx="948.7" cy="1228.2" rx="6" ry="4.3" stroke-width="1.6" fill="none"/>
<path d="M941.3 1233.2 Q948.5 1240.6 956.1 1233" stroke-width="2.3" fill="none"/>
<path d="M942.1 1231 Q948.5 1236 955.1 1231" stroke-width="1.2" fill="none"/>
<path d="M939.9 1225.2 L939.3 1233.4 L942.5 1234.4" stroke-width="1.5" fill="none"/>
<path d="M956.4 1222.4 L960 1222.4 L961.6 1226.4 L961.6 1233.2 L956.4 1234.6" stroke-width="1.7" fill="none"/>
<path d="M957.4 1224 L959.2 1224.2 L959.4 1232.2" stroke-width="1.6" fill="none"/>
<path d="M946.8 1221.6 L946.8 1211 Q946.8 1209.3 949.4 1209.3 Q952.1 1209.3 952.1 1211 L952.1 1221.6 Z" stroke-width="1.1" fill="#000"/>
<path d="M946.2 1215.2 L952.7 1215.2" stroke-width="1.6" fill="none"/>
<path d="M944.2 1218.4 L944.8 1221.4 L946.8 1221.8" stroke-width="1.4" fill="none"/>
<path d="M953.6 1218.6 L954.8 1221.6 L956.2 1222.6" stroke-width="1.4" fill="none"/>
<text transform="translate(1019.3 1286.3) scale(0.86 1)" font-size="26.5">7</text>
<path d="M962 1233.2 L1010.9 1263.4" stroke-width="1.6" fill="none"/>
<path d="M1105.3 1144.3 L1260.1 1148.4" stroke-width="1.4" fill="none"/>
<path d="M1278.6 1153.3 L1330.6 1177.2" stroke-width="1.4" fill="none"/>
<path d="M1272.8 1166.1 L1324.2 1190.8" stroke-width="1.4" fill="none"/>
<path d="M1278.6 1153.3 C1277.7 1153.5 1274.5 1153.6 1273 1154.5 C1271.5 1155.4 1270.2 1157.1 1269.8 1158.5 C1269.3 1159.9 1269.8 1161.7 1270.3 1163 C1270.8 1164.3 1272.4 1165.6 1272.8 1166.1" stroke-width="1.4" fill="none"/>
<path d="M1275.5 1154.5 C1275 1155.2 1272.7 1157.1 1272.2 1159 C1271.8 1160.9 1272.7 1164.9 1272.8 1166.1" stroke-width="1.1" fill="none"/>
<path d="M1324.2 1187.3 C1324.6 1186.3 1325.4 1183.1 1326.5 1181.5 C1327.6 1179.9 1328.7 1178.7 1330.6 1177.7 C1332.5 1176.7 1335.6 1175.7 1338 1175.6 C1340.4 1175.5 1342.9 1176.5 1345 1177 C1347.1 1177.5 1349.5 1177.8 1350.7 1178.8 C1351.9 1179.8 1352.6 1181.2 1352.4 1183 C1352.2 1184.8 1350.9 1187.7 1349.7 1189.4 C1348.5 1191.2 1347.1 1192.1 1345.5 1193.5 C1343.9 1194.9 1342.2 1196.8 1340.1 1197.9 C1338 1199 1335 1200.2 1332.7 1200 C1330.4 1199.8 1327.9 1198.1 1326.4 1196.8 C1325 1195.5 1324.4 1193.6 1324 1192 C1323.6 1190.4 1324.2 1188.1 1324.2 1187.3" stroke-width="1.5" fill="none"/>
<path d="M1326.8 1182.5 C1326.7 1183.6 1325.8 1186.9 1326 1189 C1326.2 1191.1 1327 1193.4 1328 1195 C1329 1196.6 1331.3 1197.9 1332 1198.5" stroke-width="1.1" fill="none"/>
<ellipse cx="1336.4" cy="1190.2" rx="5.6" ry="6.3" stroke-width="1.5" fill="none" transform="rotate(20 1336.4 1190.2)"/>
<ellipse cx="1335.5" cy="1190.6" rx="3.8" ry="4.6" stroke-width="1.1" fill="none" transform="rotate(20 1335.5 1190.6)"/>
<ellipse cx="1347" cy="1184.5" rx="1.9" ry="2.3" stroke-width="1.4" fill="none" transform="rotate(20 1347 1184.5)"/>
<text transform="translate(1273 1258.8) scale(0.86 1)" font-size="26.5">8</text>
<path d="M1302 1183 L1280.2 1234.5" stroke-width="1.6" fill="none"/>
<path d="M1370.9 1193.1 L1386.8 1201" stroke-width="1.4" fill="none"/>
<path d="M1368.2 1200.5 L1382.6 1207.9" stroke-width="1.4" fill="none"/>
<path d="M1370.9 1193.1 C1370.5 1193.3 1368.8 1193.5 1368.2 1194.2 C1367.6 1194.9 1367.2 1196.2 1367.2 1197.3 C1367.2 1198.3 1368 1200 1368.2 1200.5" stroke-width="1.4" fill="none"/>
<ellipse cx="1388.4" cy="1206.9" rx="4.6" ry="5.6" stroke-width="1.5" fill="none" transform="rotate(20 1388.4 1206.9)"/>
<path d="M1386.8 1201 C1386.2 1201.4 1384.3 1202.3 1383.5 1203.5 C1382.7 1204.7 1382.3 1206.6 1382.2 1208 C1382.1 1209.4 1382.4 1211.3 1383 1212 C1383.6 1212.7 1385.5 1212.3 1386 1212.4" stroke-width="1.3" fill="none"/>
<text transform="translate(1339.3 1282.7) scale(0.86 1)" font-size="26.5">9</text>
<path d="M1371.4 1203.2 L1348.6 1255.7" stroke-width="1.6" fill="none"/>
<text transform="translate(913.6 196.3) scale(0.93 1)" font-size="26.4">©</text>
<text transform="translate(941.8 196.5) scale(0.845 1)" font-size="26.8">2004 Polaris Sales Inc.</text>
</g>
</svg>
</body></html>
